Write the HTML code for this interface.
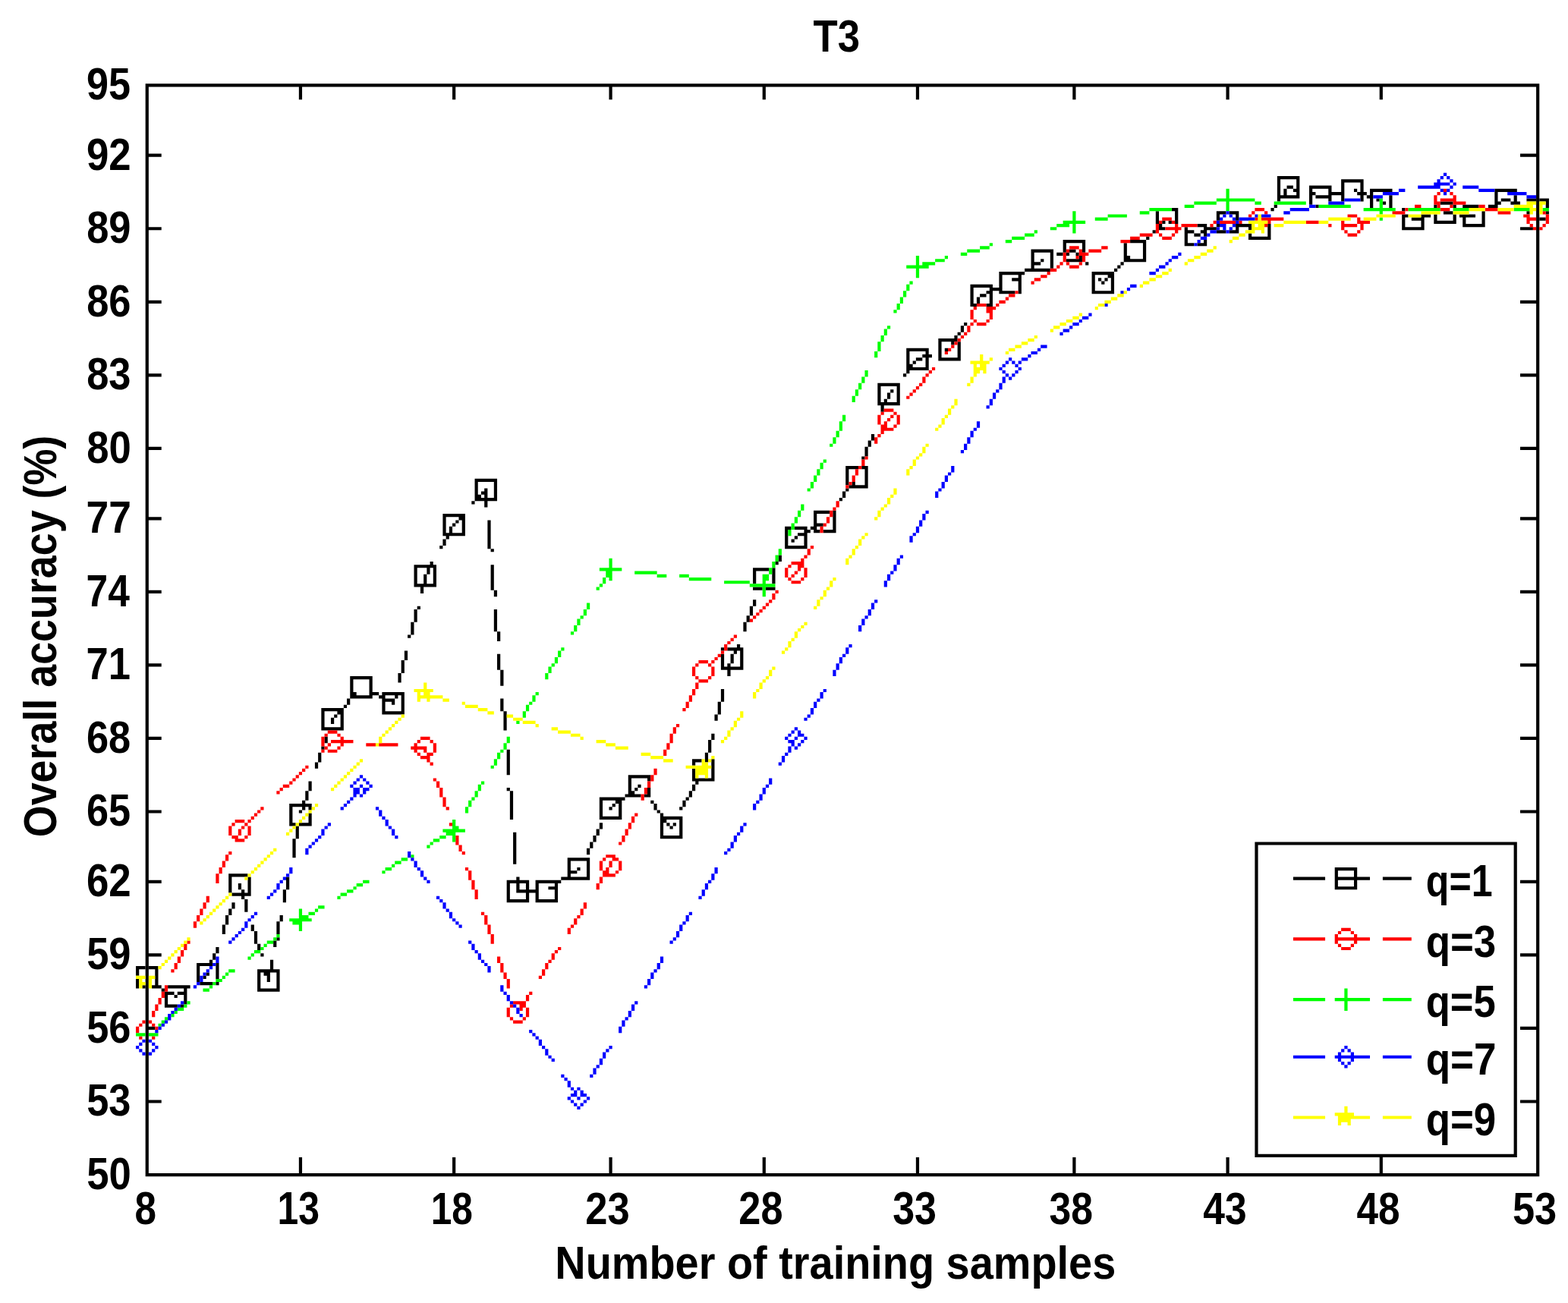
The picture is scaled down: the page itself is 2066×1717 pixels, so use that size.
<!DOCTYPE html>
<html><head><meta charset="utf-8"><title>T3</title>
<style>html,body{margin:0;padding:0;background:#fff;width:2066px;height:1717px;overflow:hidden}svg{display:block}</style>
</head><body>
<svg xmlns="http://www.w3.org/2000/svg" width="2066" height="1717" viewBox="-0.4955 -0.2644 490.4451 409.0043" preserveAspectRatio="none">
<rect x="-2" y="-2" width="500" height="420" fill="#fff"/>
<path fill="#000" d="M45 26h436v1h-436zM45 27h1v1h-1zM93 27h1v1h-1zM141 27h1v1h-1zM190 27h1v1h-1zM238 27h1v1h-1zM286 27h1v1h-1zM335 27h1v1h-1zM383 27h1v1h-1zM431 27h1v1h-1zM480 27h1v1h-1zM45 28h1v1h-1zM93 28h1v1h-1zM141 28h1v1h-1zM190 28h1v1h-1zM238 28h1v1h-1zM286 28h1v1h-1zM335 28h1v1h-1zM383 28h1v1h-1zM431 28h1v1h-1zM480 28h1v1h-1zM45 29h1v1h-1zM93 29h1v1h-1zM141 29h1v1h-1zM190 29h1v1h-1zM238 29h1v1h-1zM286 29h1v1h-1zM335 29h1v1h-1zM383 29h1v1h-1zM431 29h1v1h-1zM480 29h1v1h-1zM45 30h1v1h-1zM93 30h1v1h-1zM141 30h1v1h-1zM190 30h1v1h-1zM238 30h1v1h-1zM286 30h1v1h-1zM335 30h1v1h-1zM383 30h1v1h-1zM431 30h1v1h-1zM480 30h1v1h-1zM45 31h1v1h-1zM480 31h1v1h-1zM45 32h1v1h-1zM480 32h1v1h-1zM45 33h1v1h-1zM480 33h1v1h-1zM45 34h1v1h-1zM480 34h1v1h-1zM45 35h1v1h-1zM480 35h1v1h-1zM45 36h1v1h-1zM480 36h1v1h-1zM45 37h1v1h-1zM480 37h1v1h-1zM45 38h1v1h-1zM480 38h1v1h-1zM45 39h1v1h-1zM480 39h1v1h-1zM45 40h1v1h-1zM480 40h1v1h-1zM45 41h1v1h-1zM480 41h1v1h-1zM45 42h1v1h-1zM480 42h1v1h-1zM45 43h1v1h-1zM480 43h1v1h-1zM45 44h1v1h-1zM480 44h1v1h-1zM45 45h1v1h-1zM480 45h1v1h-1zM45 46h1v1h-1zM480 46h1v1h-1zM45 47h1v1h-1zM480 47h1v1h-1zM45 48h5v1h-5zM475 48h6v1h-6zM45 49h1v1h-1zM480 49h1v1h-1zM45 50h1v1h-1zM480 50h1v1h-1zM45 51h1v1h-1zM480 51h1v1h-1zM45 52h1v1h-1zM480 52h1v1h-1zM45 53h1v1h-1zM480 53h1v1h-1zM45 54h1v1h-1zM480 54h1v1h-1zM45 55h1v1h-1zM480 55h1v1h-1zM45 56h1v1h-1zM480 56h1v1h-1zM45 57h1v1h-1zM480 57h1v1h-1zM45 58h1v1h-1zM480 58h1v1h-1zM45 59h1v1h-1zM480 59h1v1h-1zM45 60h1v1h-1zM480 60h1v1h-1zM45 61h1v1h-1zM480 61h1v1h-1zM45 62h1v1h-1zM480 62h1v1h-1zM45 63h1v1h-1zM480 63h1v1h-1zM45 64h1v1h-1zM480 64h1v1h-1zM45 65h1v1h-1zM480 65h1v1h-1zM45 66h1v1h-1zM480 66h1v1h-1zM45 67h1v1h-1zM480 67h1v1h-1zM45 68h1v1h-1zM480 68h1v1h-1zM45 69h1v1h-1zM480 69h1v1h-1zM45 70h1v1h-1zM480 70h1v1h-1zM45 71h5v1h-5zM475 71h4v1h-4zM480 71h1v1h-1zM45 72h1v1h-1zM480 72h1v1h-1zM45 73h1v1h-1zM480 73h1v1h-1zM45 74h1v1h-1zM480 74h1v1h-1zM45 75h1v1h-1zM480 75h1v1h-1zM45 76h1v1h-1zM480 76h1v1h-1zM45 77h1v1h-1zM480 77h1v1h-1zM45 78h1v1h-1zM480 78h1v1h-1zM45 79h1v1h-1zM480 79h1v1h-1zM45 80h1v1h-1zM480 80h1v1h-1zM45 81h1v1h-1zM480 81h1v1h-1zM45 82h1v1h-1zM480 82h1v1h-1zM45 83h1v1h-1zM480 83h1v1h-1zM45 84h1v1h-1zM480 84h1v1h-1zM45 85h1v1h-1zM480 85h1v1h-1zM45 86h1v1h-1zM480 86h1v1h-1zM45 87h1v1h-1zM480 87h1v1h-1zM45 88h1v1h-1zM480 88h1v1h-1zM45 89h1v1h-1zM480 89h1v1h-1zM45 90h1v1h-1zM480 90h1v1h-1zM45 91h1v1h-1zM480 91h1v1h-1zM45 92h1v1h-1zM480 92h1v1h-1zM45 93h1v1h-1zM480 93h1v1h-1zM45 94h5v1h-5zM475 94h6v1h-6zM45 95h1v1h-1zM480 95h1v1h-1zM45 96h1v1h-1zM480 96h1v1h-1zM45 97h1v1h-1zM480 97h1v1h-1zM45 98h1v1h-1zM480 98h1v1h-1zM45 99h1v1h-1zM480 99h1v1h-1zM45 100h1v1h-1zM480 100h1v1h-1zM45 101h1v1h-1zM480 101h1v1h-1zM45 102h1v1h-1zM480 102h1v1h-1zM45 103h1v1h-1zM480 103h1v1h-1zM45 104h1v1h-1zM480 104h1v1h-1zM45 105h1v1h-1zM480 105h1v1h-1zM45 106h1v1h-1zM480 106h1v1h-1zM45 107h1v1h-1zM480 107h1v1h-1zM45 108h1v1h-1zM480 108h1v1h-1zM45 109h1v1h-1zM480 109h1v1h-1zM45 110h1v1h-1zM480 110h1v1h-1zM45 111h1v1h-1zM480 111h1v1h-1zM45 112h1v1h-1zM480 112h1v1h-1zM45 113h1v1h-1zM480 113h1v1h-1zM45 114h1v1h-1zM480 114h1v1h-1zM45 115h1v1h-1zM480 115h1v1h-1zM45 116h1v1h-1zM480 116h1v1h-1zM45 117h5v1h-5zM475 117h6v1h-6zM45 118h1v1h-1zM480 118h1v1h-1zM45 119h1v1h-1zM480 119h1v1h-1zM45 120h1v1h-1zM480 120h1v1h-1zM45 121h1v1h-1zM480 121h1v1h-1zM45 122h1v1h-1zM480 122h1v1h-1zM45 123h1v1h-1zM480 123h1v1h-1zM45 124h1v1h-1zM480 124h1v1h-1zM45 125h1v1h-1zM480 125h1v1h-1zM45 126h1v1h-1zM480 126h1v1h-1zM45 127h1v1h-1zM480 127h1v1h-1zM45 128h1v1h-1zM480 128h1v1h-1zM45 129h1v1h-1zM480 129h1v1h-1zM45 130h1v1h-1zM480 130h1v1h-1zM45 131h1v1h-1zM480 131h1v1h-1zM45 132h1v1h-1zM480 132h1v1h-1zM45 133h1v1h-1zM480 133h1v1h-1zM45 134h1v1h-1zM480 134h1v1h-1zM45 135h1v1h-1zM480 135h1v1h-1zM45 136h1v1h-1zM480 136h1v1h-1zM45 137h1v1h-1zM480 137h1v1h-1zM45 138h1v1h-1zM480 138h1v1h-1zM45 139h1v1h-1zM480 139h1v1h-1zM45 140h5v1h-5zM475 140h6v1h-6zM45 141h1v1h-1zM480 141h1v1h-1zM45 142h1v1h-1zM480 142h1v1h-1zM45 143h1v1h-1zM480 143h1v1h-1zM45 144h1v1h-1zM480 144h1v1h-1zM45 145h1v1h-1zM480 145h1v1h-1zM45 146h1v1h-1zM480 146h1v1h-1zM45 147h1v1h-1zM480 147h1v1h-1zM45 148h1v1h-1zM480 148h1v1h-1zM45 149h1v1h-1zM480 149h1v1h-1zM45 150h1v1h-1zM480 150h1v1h-1zM45 151h1v1h-1zM480 151h1v1h-1zM45 152h1v1h-1zM480 152h1v1h-1zM45 153h1v1h-1zM480 153h1v1h-1zM45 154h1v1h-1zM480 154h1v1h-1zM45 155h1v1h-1zM480 155h1v1h-1zM45 156h1v1h-1zM480 156h1v1h-1zM45 157h1v1h-1zM480 157h1v1h-1zM45 158h1v1h-1zM480 158h1v1h-1zM45 159h1v1h-1zM480 159h1v1h-1zM45 160h1v1h-1zM480 160h1v1h-1zM45 161h1v1h-1zM480 161h1v1h-1zM45 162h5v1h-5zM475 162h6v1h-6zM45 163h1v1h-1zM480 163h1v1h-1zM45 164h1v1h-1zM480 164h1v1h-1zM45 165h1v1h-1zM480 165h1v1h-1zM45 166h1v1h-1zM480 166h1v1h-1zM45 167h1v1h-1zM480 167h1v1h-1zM45 168h1v1h-1zM480 168h1v1h-1zM45 169h1v1h-1zM480 169h1v1h-1zM45 170h1v1h-1zM480 170h1v1h-1zM45 171h1v1h-1zM480 171h1v1h-1zM45 172h1v1h-1zM480 172h1v1h-1zM45 173h1v1h-1zM480 173h1v1h-1zM45 174h1v1h-1zM480 174h1v1h-1zM45 175h1v1h-1zM480 175h1v1h-1zM45 176h1v1h-1zM480 176h1v1h-1zM45 177h1v1h-1zM480 177h1v1h-1zM45 178h1v1h-1zM480 178h1v1h-1zM45 179h1v1h-1zM480 179h1v1h-1zM45 180h1v1h-1zM480 180h1v1h-1zM45 181h1v1h-1zM480 181h1v1h-1zM45 182h1v1h-1zM480 182h1v1h-1zM45 183h1v1h-1zM480 183h1v1h-1zM45 184h1v1h-1zM480 184h1v1h-1zM45 185h5v1h-5zM475 185h6v1h-6zM45 186h1v1h-1zM480 186h1v1h-1zM45 187h1v1h-1zM480 187h1v1h-1zM45 188h1v1h-1zM480 188h1v1h-1zM45 189h1v1h-1zM480 189h1v1h-1zM45 190h1v1h-1zM480 190h1v1h-1zM45 191h1v1h-1zM480 191h1v1h-1zM45 192h1v1h-1zM480 192h1v1h-1zM45 193h1v1h-1zM480 193h1v1h-1zM45 194h1v1h-1zM480 194h1v1h-1zM45 195h1v1h-1zM480 195h1v1h-1zM45 196h1v1h-1zM480 196h1v1h-1zM45 197h1v1h-1zM480 197h1v1h-1zM45 198h1v1h-1zM480 198h1v1h-1zM45 199h1v1h-1zM480 199h1v1h-1zM45 200h1v1h-1zM480 200h1v1h-1zM45 201h1v1h-1zM480 201h1v1h-1zM45 202h1v1h-1zM480 202h1v1h-1zM45 203h1v1h-1zM480 203h1v1h-1zM45 204h1v1h-1zM480 204h1v1h-1zM45 205h1v1h-1zM480 205h1v1h-1zM45 206h1v1h-1zM480 206h1v1h-1zM45 207h1v1h-1zM480 207h1v1h-1zM45 208h5v1h-5zM475 208h6v1h-6zM45 209h1v1h-1zM480 209h1v1h-1zM45 210h1v1h-1zM480 210h1v1h-1zM45 211h1v1h-1zM480 211h1v1h-1zM45 212h1v1h-1zM480 212h1v1h-1zM45 213h1v1h-1zM480 213h1v1h-1zM45 214h1v1h-1zM480 214h1v1h-1zM45 215h1v1h-1zM480 215h1v1h-1zM45 216h1v1h-1zM480 216h1v1h-1zM45 217h1v1h-1zM480 217h1v1h-1zM45 218h1v1h-1zM480 218h1v1h-1zM45 219h1v1h-1zM480 219h1v1h-1zM45 220h1v1h-1zM480 220h1v1h-1zM45 221h1v1h-1zM480 221h1v1h-1zM45 222h1v1h-1zM480 222h1v1h-1zM45 223h1v1h-1zM480 223h1v1h-1zM45 224h1v1h-1zM480 224h1v1h-1zM45 225h1v1h-1zM480 225h1v1h-1zM45 226h1v1h-1zM480 226h1v1h-1zM45 227h1v1h-1zM480 227h1v1h-1zM45 228h1v1h-1zM480 228h1v1h-1zM45 229h1v1h-1zM480 229h1v1h-1zM45 230h1v1h-1zM480 230h1v1h-1zM45 231h5v1h-5zM475 231h6v1h-6zM45 232h1v1h-1zM480 232h1v1h-1zM45 233h1v1h-1zM480 233h1v1h-1zM45 234h1v1h-1zM480 234h1v1h-1zM45 235h1v1h-1zM480 235h1v1h-1zM45 236h1v1h-1zM480 236h1v1h-1zM45 237h1v1h-1zM480 237h1v1h-1zM45 238h1v1h-1zM480 238h1v1h-1zM45 239h1v1h-1zM480 239h1v1h-1zM45 240h1v1h-1zM480 240h1v1h-1zM45 241h1v1h-1zM480 241h1v1h-1zM45 242h1v1h-1zM480 242h1v1h-1zM45 243h1v1h-1zM480 243h1v1h-1zM45 244h1v1h-1zM480 244h1v1h-1zM45 245h1v1h-1zM480 245h1v1h-1zM45 246h1v1h-1zM480 246h1v1h-1zM45 247h1v1h-1zM480 247h1v1h-1zM45 248h1v1h-1zM480 248h1v1h-1zM45 249h1v1h-1zM480 249h1v1h-1zM45 250h1v1h-1zM480 250h1v1h-1zM45 251h1v1h-1zM480 251h1v1h-1zM45 252h1v1h-1zM480 252h1v1h-1zM45 253h1v1h-1zM480 253h1v1h-1zM45 254h5v1h-5zM475 254h6v1h-6zM45 255h1v1h-1zM480 255h1v1h-1zM45 256h1v1h-1zM480 256h1v1h-1zM45 257h1v1h-1zM480 257h1v1h-1zM45 258h1v1h-1zM480 258h1v1h-1zM45 259h1v1h-1zM480 259h1v1h-1zM45 260h1v1h-1zM480 260h1v1h-1zM45 261h1v1h-1zM480 261h1v1h-1zM45 262h1v1h-1zM480 262h1v1h-1zM45 263h1v1h-1zM480 263h1v1h-1zM45 264h1v1h-1zM392 264h82v1h-82zM480 264h1v1h-1zM45 265h1v1h-1zM392 265h1v1h-1zM473 265h1v1h-1zM480 265h1v1h-1zM45 266h1v1h-1zM392 266h1v1h-1zM473 266h1v1h-1zM480 266h1v1h-1zM45 267h1v1h-1zM392 267h1v1h-1zM473 267h1v1h-1zM480 267h1v1h-1zM45 268h1v1h-1zM392 268h1v1h-1zM473 268h1v1h-1zM480 268h1v1h-1zM45 269h1v1h-1zM392 269h1v1h-1zM473 269h1v1h-1zM480 269h1v1h-1zM45 270h1v1h-1zM392 270h1v1h-1zM473 270h1v1h-1zM480 270h1v1h-1zM45 271h1v1h-1zM392 271h1v1h-1zM473 271h1v1h-1zM480 271h1v1h-1zM45 272h1v1h-1zM392 272h1v1h-1zM473 272h1v1h-1zM480 272h1v1h-1zM45 273h1v1h-1zM392 273h1v1h-1zM473 273h1v1h-1zM480 273h1v1h-1zM45 274h1v1h-1zM392 274h1v1h-1zM473 274h1v1h-1zM480 274h1v1h-1zM45 275h1v1h-1zM392 275h1v1h-1zM473 275h1v1h-1zM480 275h1v1h-1zM45 276h5v1h-5zM392 276h1v1h-1zM473 276h1v1h-1zM475 276h6v1h-6zM45 277h1v1h-1zM392 277h1v1h-1zM473 277h1v1h-1zM480 277h1v1h-1zM45 278h1v1h-1zM392 278h1v1h-1zM473 278h1v1h-1zM480 278h1v1h-1zM45 279h1v1h-1zM392 279h1v1h-1zM473 279h1v1h-1zM480 279h1v1h-1zM45 280h1v1h-1zM392 280h1v1h-1zM473 280h1v1h-1zM480 280h1v1h-1zM45 281h1v1h-1zM392 281h1v1h-1zM473 281h1v1h-1zM480 281h1v1h-1zM45 282h1v1h-1zM392 282h1v1h-1zM473 282h1v1h-1zM480 282h1v1h-1zM45 283h1v1h-1zM392 283h1v1h-1zM473 283h1v1h-1zM480 283h1v1h-1zM45 284h1v1h-1zM392 284h1v1h-1zM473 284h1v1h-1zM480 284h1v1h-1zM45 285h1v1h-1zM392 285h1v1h-1zM473 285h1v1h-1zM480 285h1v1h-1zM45 286h1v1h-1zM392 286h1v1h-1zM473 286h1v1h-1zM480 286h1v1h-1zM45 287h1v1h-1zM392 287h1v1h-1zM473 287h1v1h-1zM480 287h1v1h-1zM45 288h1v1h-1zM392 288h1v1h-1zM473 288h1v1h-1zM480 288h1v1h-1zM45 289h1v1h-1zM392 289h1v1h-1zM473 289h1v1h-1zM480 289h1v1h-1zM45 290h1v1h-1zM392 290h1v1h-1zM473 290h1v1h-1zM480 290h1v1h-1zM45 291h1v1h-1zM392 291h1v1h-1zM473 291h1v1h-1zM480 291h1v1h-1zM45 292h1v1h-1zM392 292h1v1h-1zM473 292h1v1h-1zM480 292h1v1h-1zM45 293h1v1h-1zM392 293h1v1h-1zM473 293h1v1h-1zM480 293h1v1h-1zM45 294h1v1h-1zM392 294h1v1h-1zM473 294h1v1h-1zM480 294h1v1h-1zM45 295h1v1h-1zM392 295h1v1h-1zM473 295h1v1h-1zM480 295h1v1h-1zM45 296h1v1h-1zM392 296h1v1h-1zM473 296h1v1h-1zM480 296h1v1h-1zM45 297h1v1h-1zM392 297h1v1h-1zM473 297h1v1h-1zM480 297h1v1h-1zM45 298h1v1h-1zM392 298h1v1h-1zM473 298h1v1h-1zM480 298h1v1h-1zM45 299h5v1h-5zM392 299h1v1h-1zM473 299h1v1h-1zM475 299h6v1h-6zM45 300h1v1h-1zM392 300h1v1h-1zM473 300h1v1h-1zM480 300h1v1h-1zM45 301h1v1h-1zM392 301h1v1h-1zM473 301h1v1h-1zM480 301h1v1h-1zM45 302h1v1h-1zM392 302h1v1h-1zM473 302h1v1h-1zM480 302h1v1h-1zM45 303h1v1h-1zM392 303h1v1h-1zM473 303h1v1h-1zM480 303h1v1h-1zM45 304h1v1h-1zM392 304h1v1h-1zM473 304h1v1h-1zM480 304h1v1h-1zM45 305h1v1h-1zM392 305h1v1h-1zM473 305h1v1h-1zM480 305h1v1h-1zM45 306h1v1h-1zM392 306h1v1h-1zM473 306h1v1h-1zM480 306h1v1h-1zM45 307h1v1h-1zM392 307h1v1h-1zM473 307h1v1h-1zM480 307h1v1h-1zM45 308h1v1h-1zM392 308h1v1h-1zM473 308h1v1h-1zM480 308h1v1h-1zM45 309h1v1h-1zM392 309h1v1h-1zM473 309h1v1h-1zM480 309h1v1h-1zM45 310h1v1h-1zM392 310h1v1h-1zM473 310h1v1h-1zM480 310h1v1h-1zM45 311h1v1h-1zM392 311h1v1h-1zM473 311h1v1h-1zM480 311h1v1h-1zM45 312h1v1h-1zM392 312h1v1h-1zM473 312h1v1h-1zM480 312h1v1h-1zM45 313h1v1h-1zM392 313h1v1h-1zM473 313h1v1h-1zM480 313h1v1h-1zM45 314h1v1h-1zM392 314h1v1h-1zM473 314h1v1h-1zM480 314h1v1h-1zM45 315h1v1h-1zM392 315h1v1h-1zM473 315h1v1h-1zM480 315h1v1h-1zM45 316h1v1h-1zM392 316h1v1h-1zM473 316h1v1h-1zM480 316h1v1h-1zM45 317h1v1h-1zM392 317h1v1h-1zM473 317h1v1h-1zM480 317h1v1h-1zM45 318h1v1h-1zM392 318h1v1h-1zM473 318h1v1h-1zM480 318h1v1h-1zM45 319h1v1h-1zM392 319h1v1h-1zM473 319h1v1h-1zM480 319h1v1h-1zM45 320h1v1h-1zM392 320h1v1h-1zM473 320h1v1h-1zM480 320h1v1h-1zM45 321h1v1h-1zM392 321h1v1h-1zM473 321h1v1h-1zM480 321h1v1h-1zM45 322h3v1h-3zM392 322h1v1h-1zM473 322h1v1h-1zM475 322h6v1h-6zM45 323h1v1h-1zM392 323h1v1h-1zM473 323h1v1h-1zM480 323h1v1h-1zM45 324h1v1h-1zM392 324h1v1h-1zM473 324h1v1h-1zM480 324h1v1h-1zM45 325h1v1h-1zM392 325h1v1h-1zM473 325h1v1h-1zM480 325h1v1h-1zM45 326h1v1h-1zM392 326h1v1h-1zM473 326h1v1h-1zM480 326h1v1h-1zM45 327h1v1h-1zM392 327h1v1h-1zM473 327h1v1h-1zM480 327h1v1h-1zM45 328h1v1h-1zM392 328h1v1h-1zM473 328h1v1h-1zM480 328h1v1h-1zM45 329h1v1h-1zM392 329h1v1h-1zM473 329h1v1h-1zM480 329h1v1h-1zM45 330h1v1h-1zM392 330h1v1h-1zM473 330h1v1h-1zM480 330h1v1h-1zM45 331h1v1h-1zM392 331h1v1h-1zM473 331h1v1h-1zM480 331h1v1h-1zM45 332h1v1h-1zM392 332h1v1h-1zM473 332h1v1h-1zM480 332h1v1h-1zM45 333h1v1h-1zM392 333h1v1h-1zM473 333h1v1h-1zM480 333h1v1h-1zM45 334h1v1h-1zM392 334h1v1h-1zM473 334h1v1h-1zM480 334h1v1h-1zM45 335h1v1h-1zM392 335h1v1h-1zM473 335h1v1h-1zM480 335h1v1h-1zM45 336h1v1h-1zM392 336h1v1h-1zM473 336h1v1h-1zM480 336h1v1h-1zM45 337h1v1h-1zM392 337h1v1h-1zM473 337h1v1h-1zM480 337h1v1h-1zM45 338h1v1h-1zM392 338h1v1h-1zM473 338h1v1h-1zM480 338h1v1h-1zM45 339h1v1h-1zM392 339h1v1h-1zM473 339h1v1h-1zM480 339h1v1h-1zM45 340h1v1h-1zM392 340h1v1h-1zM473 340h1v1h-1zM480 340h1v1h-1zM45 341h1v1h-1zM392 341h1v1h-1zM473 341h1v1h-1zM480 341h1v1h-1zM45 342h1v1h-1zM392 342h1v1h-1zM473 342h1v1h-1zM480 342h1v1h-1zM45 343h1v1h-1zM392 343h1v1h-1zM473 343h1v1h-1zM480 343h1v1h-1zM45 344h1v1h-1zM392 344h1v1h-1zM473 344h1v1h-1zM480 344h1v1h-1zM45 345h5v1h-5zM392 345h1v1h-1zM473 345h1v1h-1zM475 345h6v1h-6zM45 346h1v1h-1zM392 346h1v1h-1zM473 346h1v1h-1zM480 346h1v1h-1zM45 347h1v1h-1zM392 347h1v1h-1zM473 347h1v1h-1zM480 347h1v1h-1zM45 348h1v1h-1zM392 348h1v1h-1zM473 348h1v1h-1zM480 348h1v1h-1zM45 349h1v1h-1zM392 349h1v1h-1zM473 349h1v1h-1zM480 349h1v1h-1zM45 350h1v1h-1zM392 350h1v1h-1zM473 350h1v1h-1zM480 350h1v1h-1zM45 351h1v1h-1zM392 351h1v1h-1zM473 351h1v1h-1zM480 351h1v1h-1zM45 352h1v1h-1zM392 352h1v1h-1zM473 352h1v1h-1zM480 352h1v1h-1zM45 353h1v1h-1zM392 353h1v1h-1zM473 353h1v1h-1zM480 353h1v1h-1zM45 354h1v1h-1zM392 354h1v1h-1zM473 354h1v1h-1zM480 354h1v1h-1zM45 355h1v1h-1zM392 355h1v1h-1zM473 355h1v1h-1zM480 355h1v1h-1zM45 356h1v1h-1zM392 356h1v1h-1zM473 356h1v1h-1zM480 356h1v1h-1zM45 357h1v1h-1zM392 357h1v1h-1zM473 357h1v1h-1zM480 357h1v1h-1zM45 358h1v1h-1zM392 358h1v1h-1zM473 358h1v1h-1zM480 358h1v1h-1zM45 359h1v1h-1zM392 359h1v1h-1zM473 359h1v1h-1zM480 359h1v1h-1zM45 360h1v1h-1zM392 360h1v1h-1zM473 360h1v1h-1zM480 360h1v1h-1zM45 361h1v1h-1zM392 361h1v1h-1zM473 361h1v1h-1zM480 361h1v1h-1zM45 362h1v1h-1zM392 362h82v1h-82zM480 362h1v1h-1zM45 363h1v1h-1zM93 363h1v1h-1zM141 363h1v1h-1zM190 363h1v1h-1zM238 363h1v1h-1zM286 363h1v1h-1zM335 363h1v1h-1zM383 363h1v1h-1zM431 363h1v1h-1zM480 363h1v1h-1zM45 364h1v1h-1zM93 364h1v1h-1zM141 364h1v1h-1zM190 364h1v1h-1zM238 364h1v1h-1zM286 364h1v1h-1zM335 364h1v1h-1zM383 364h1v1h-1zM431 364h1v1h-1zM480 364h1v1h-1zM45 365h1v1h-1zM93 365h1v1h-1zM141 365h1v1h-1zM190 365h1v1h-1zM238 365h1v1h-1zM286 365h1v1h-1zM335 365h1v1h-1zM383 365h1v1h-1zM431 365h1v1h-1zM480 365h1v1h-1zM45 366h1v1h-1zM93 366h1v1h-1zM141 366h1v1h-1zM190 366h1v1h-1zM238 366h1v1h-1zM286 366h1v1h-1zM335 366h1v1h-1zM383 366h1v1h-1zM431 366h1v1h-1zM480 366h1v1h-1zM45 367h1v1h-1zM93 367h1v1h-1zM141 367h1v1h-1zM190 367h1v1h-1zM238 367h1v1h-1zM286 367h1v1h-1zM335 367h1v1h-1zM383 367h1v1h-1zM431 367h1v1h-1zM480 367h1v1h-1zM45 368h436v1h-436z"/>
<path fill="#000000" d="M399 55h7v1h-7zM399 56h1v1h-1zM405 56h1v1h-1zM419 56h7v1h-7zM399 57h1v1h-1zM405 57h1v1h-1zM419 57h1v1h-1zM425 57h1v1h-1zM399 58h1v1h-1zM402 58h2v1h-2zM405 58h1v1h-1zM409 58h7v1h-7zM419 58h1v1h-1zM425 58h1v1h-1zM399 59h1v1h-1zM401 59h1v1h-1zM404 59h2v1h-2zM409 59h1v1h-1zM415 59h1v1h-1zM419 59h1v1h-1zM423 59h1v1h-1zM425 59h1v1h-1zM428 59h7v1h-7zM467 59h7v1h-7zM399 60h1v1h-1zM401 60h1v1h-1zM405 60h1v1h-1zM409 60h2v1h-2zM415 60h5v1h-5zM424 60h3v1h-3zM428 60h1v1h-1zM467 60h1v1h-1zM399 61h7v1h-7zM409 61h1v1h-1zM411 61h5v1h-5zM419 61h1v1h-1zM425 61h1v1h-1zM427 61h2v1h-2zM434 61h1v1h-1zM467 61h1v1h-1zM473 61h1v1h-1zM399 62h1v1h-1zM409 62h1v1h-1zM415 62h1v1h-1zM419 62h1v1h-1zM425 62h1v1h-1zM428 62h1v1h-1zM430 62h1v1h-1zM434 62h1v1h-1zM467 62h1v1h-1zM469 62h3v1h-3zM473 62h1v1h-1zM477 62h3v1h-3zM481 62h3v1h-3zM409 63h1v1h-1zM428 63h1v1h-1zM432 63h1v1h-1zM434 63h1v1h-1zM450 63h4v1h-4zM467 63h2v1h-2zM472 63h3v1h-3zM483 63h1v1h-1zM398 64h1v1h-1zM411 64h1v1h-1zM428 64h1v1h-1zM434 64h1v1h-1zM448 64h1v1h-1zM454 64h1v1h-1zM457 64h5v1h-5zM465 64h3v1h-3zM483 64h1v1h-1zM366 65h2v1h-2zM397 65h1v1h-1zM438 65h1v1h-1zM361 66h1v1h-1zM367 66h1v1h-1zM380 66h3v1h-3zM384 66h3v1h-3zM451 66h3v1h-3zM463 66h1v1h-1zM477 66h1v1h-1zM483 66h1v1h-1zM361 67h1v1h-1zM367 67h1v1h-1zM380 67h1v1h-1zM386 67h1v1h-1zM438 67h2v1h-2zM444 67h3v1h-3zM448 67h1v1h-1zM454 67h1v1h-1zM456 67h5v1h-5zM463 67h1v1h-1zM361 68h1v1h-1zM367 68h1v1h-1zM380 68h1v1h-1zM386 68h1v1h-1zM438 68h1v1h-1zM441 68h4v1h-4zM448 68h1v1h-1zM454 68h1v1h-1zM457 68h1v1h-1zM463 68h1v1h-1zM481 68h2v1h-2zM361 69h1v1h-1zM363 69h1v1h-1zM365 69h1v1h-1zM367 69h1v1h-1zM438 69h1v1h-1zM444 69h1v1h-1zM448 69h7v1h-7zM457 69h1v1h-1zM463 69h1v1h-1zM362 70h1v1h-1zM374 70h3v1h-3zM380 70h1v1h-1zM386 70h5v1h-5zM396 70h1v1h-1zM438 70h1v1h-1zM444 70h1v1h-1zM457 70h7v1h-7zM362 71h2v1h-2zM370 71h1v1h-1zM376 71h4v1h-4zM386 71h1v1h-1zM390 71h1v1h-1zM396 71h1v1h-1zM438 71h7v1h-7zM360 72h1v1h-1zM370 72h3v1h-3zM375 72h2v1h-2zM380 72h3v1h-3zM384 72h3v1h-3zM396 72h1v1h-1zM370 73h1v1h-1zM373 73h2v1h-2zM376 73h1v1h-1zM390 73h1v1h-1zM396 73h1v1h-1zM358 74h1v1h-1zM370 74h1v1h-1zM390 74h7v1h-7zM332 75h7v1h-7zM353 75h5v1h-5zM370 75h1v1h-1zM376 75h1v1h-1zM332 76h1v1h-1zM338 76h1v1h-1zM351 76h1v1h-1zM357 76h1v1h-1zM370 76h3v1h-3zM374 76h3v1h-3zM332 77h1v1h-1zM338 77h1v1h-1zM351 77h1v1h-1zM357 77h1v1h-1zM322 78h7v1h-7zM332 78h1v1h-1zM334 78h2v1h-2zM338 78h1v1h-1zM351 78h1v1h-1zM357 78h1v1h-1zM322 79h1v1h-1zM328 79h1v1h-1zM330 79h2v1h-2zM333 79h1v1h-1zM336 79h1v1h-1zM351 79h1v1h-1zM357 79h1v1h-1zM322 80h1v1h-1zM328 80h1v1h-1zM337 80h1v1h-1zM351 80h2v1h-2zM357 80h1v1h-1zM322 81h1v1h-1zM325 81h1v1h-1zM328 81h1v1h-1zM333 81h5v1h-5zM351 81h7v1h-7zM322 82h3v1h-3zM328 82h1v1h-1zM339 82h1v1h-1zM350 82h1v1h-1zM322 83h1v1h-1zM328 83h1v1h-1zM349 83h1v1h-1zM320 84h8v1h-8zM348 84h1v1h-1zM312 85h8v1h-8zM341 85h7v1h-7zM312 86h1v1h-1zM318 86h1v1h-1zM341 86h1v1h-1zM346 86h2v1h-2zM312 87h1v1h-1zM316 87h3v1h-3zM341 87h1v1h-1zM343 87h1v1h-1zM345 87h1v1h-1zM347 87h1v1h-1zM312 88h1v1h-1zM318 88h1v1h-1zM341 88h1v1h-1zM344 88h1v1h-1zM347 88h1v1h-1zM303 89h7v1h-7zM312 89h1v1h-1zM318 89h1v1h-1zM341 89h1v1h-1zM347 89h1v1h-1zM303 90h1v1h-1zM309 90h4v1h-4zM318 90h1v1h-1zM341 90h1v1h-1zM347 90h1v1h-1zM303 91h1v1h-1zM308 91h2v1h-2zM312 91h5v1h-5zM318 91h1v1h-1zM341 91h7v1h-7zM303 92h1v1h-1zM306 92h2v1h-2zM309 92h1v1h-1zM303 93h1v1h-1zM305 93h1v1h-1zM309 93h1v1h-1zM303 94h1v1h-1zM305 94h1v1h-1zM309 94h1v1h-1zM303 95h2v1h-2zM308 95h2v1h-2zM301 101h1v1h-1zM300 102h1v1h-1zM300 103h1v1h-1zM299 104h1v1h-1zM298 105h1v1h-1zM293 106h6v1h-6zM293 107h1v1h-1zM297 107h1v1h-1zM299 107h1v1h-1zM293 108h1v1h-1zM299 108h1v1h-1zM283 109h7v1h-7zM293 109h1v1h-1zM295 109h1v1h-1zM299 109h1v1h-1zM283 110h1v1h-1zM289 110h1v1h-1zM293 110h1v1h-1zM299 110h1v1h-1zM283 111h1v1h-1zM288 111h3v1h-3zM293 111h1v1h-1zM299 111h1v1h-1zM283 112h1v1h-1zM286 112h2v1h-2zM289 112h1v1h-1zM293 112h7v1h-7zM283 113h1v1h-1zM285 113h1v1h-1zM289 113h1v1h-1zM283 114h2v1h-2zM289 114h1v1h-1zM283 115h7v1h-7zM283 116h1v1h-1zM282 117h1v1h-1zM274 120h7v1h-7zM274 121h1v1h-1zM280 121h1v1h-1zM274 122h1v1h-1zM278 122h1v1h-1zM280 122h1v1h-1zM274 123h1v1h-1zM277 123h1v1h-1zM280 123h1v1h-1zM274 124h1v1h-1zM277 124h1v1h-1zM280 124h1v1h-1zM274 125h1v1h-1zM276 125h1v1h-1zM280 125h1v1h-1zM274 126h7v1h-7zM275 127h1v1h-1zM275 128h1v1h-1zM272 136h1v1h-1zM272 137h1v1h-1zM271 138h1v1h-1zM271 139h1v1h-1zM270 140h1v1h-1zM270 141h1v1h-1zM270 142h1v1h-1zM269 143h1v1h-1zM264 146h4v1h-4zM269 146h2v1h-2zM264 147h1v1h-1zM270 147h1v1h-1zM264 148h1v1h-1zM270 148h1v1h-1zM264 149h1v1h-1zM270 149h1v1h-1zM148 150h7v1h-7zM264 150h1v1h-1zM270 150h1v1h-1zM148 151h1v1h-1zM154 151h1v1h-1zM264 151h1v1h-1zM266 151h1v1h-1zM270 151h1v1h-1zM148 152h1v1h-1zM154 152h1v1h-1zM265 152h6v1h-6zM148 153h1v1h-1zM151 153h1v1h-1zM154 153h1v1h-1zM264 153h1v1h-1zM148 154h1v1h-1zM150 154h2v1h-2zM154 154h1v1h-1zM263 154h1v1h-1zM148 155h2v1h-2zM151 155h1v1h-1zM154 155h1v1h-1zM263 155h1v1h-1zM148 156h7v1h-7zM262 156h1v1h-1zM147 157h1v1h-1zM151 157h1v1h-1zM151 158h1v1h-1zM254 160h5v1h-5zM260 160h1v1h-1zM138 161h7v1h-7zM254 161h1v1h-1zM260 161h1v1h-1zM138 162h1v1h-1zM143 162h2v1h-2zM254 162h1v1h-1zM260 162h1v1h-1zM138 163h1v1h-1zM142 163h1v1h-1zM144 163h1v1h-1zM152 163h1v1h-1zM254 163h1v1h-1zM260 163h1v1h-1zM138 164h1v1h-1zM141 164h1v1h-1zM144 164h1v1h-1zM152 164h1v1h-1zM254 164h3v1h-3zM260 164h1v1h-1zM138 165h1v1h-1zM140 165h1v1h-1zM144 165h1v1h-1zM152 165h1v1h-1zM245 165h2v1h-2zM248 165h4v1h-4zM253 165h2v1h-2zM260 165h1v1h-1zM138 166h1v1h-1zM140 166h1v1h-1zM144 166h1v1h-1zM152 166h1v1h-1zM245 166h1v1h-1zM251 166h2v1h-2zM254 166h2v1h-2zM257 166h4v1h-4zM138 167h7v1h-7zM152 167h1v1h-1zM245 167h1v1h-1zM249 167h3v1h-3zM139 168h1v1h-1zM152 168h1v1h-1zM245 168h1v1h-1zM248 168h1v1h-1zM251 168h1v1h-1zM138 169h1v1h-1zM152 169h1v1h-1zM245 169h1v1h-1zM247 169h1v1h-1zM251 169h1v1h-1zM138 170h1v1h-1zM152 170h1v1h-1zM245 170h1v1h-1zM251 170h1v1h-1zM137 171h1v1h-1zM152 171h1v1h-1zM245 171h7v1h-7zM153 172h1v1h-1zM243 174h1v1h-1zM243 175h1v1h-1zM134 176h1v1h-1zM242 176h1v1h-1zM129 177h7v1h-7zM153 177h1v1h-1zM129 178h1v1h-1zM133 178h1v1h-1zM135 178h1v1h-1zM153 178h1v1h-1zM235 178h5v1h-5zM241 178h1v1h-1zM129 179h1v1h-1zM133 179h1v1h-1zM135 179h1v1h-1zM153 179h1v1h-1zM235 179h1v1h-1zM241 179h1v1h-1zM129 180h1v1h-1zM132 180h1v1h-1zM135 180h1v1h-1zM153 180h1v1h-1zM235 180h1v1h-1zM241 180h1v1h-1zM129 181h1v1h-1zM132 181h1v1h-1zM135 181h1v1h-1zM153 181h1v1h-1zM235 181h1v1h-1zM241 181h1v1h-1zM129 182h1v1h-1zM132 182h1v1h-1zM135 182h1v1h-1zM153 182h1v1h-1zM235 182h1v1h-1zM241 182h1v1h-1zM129 183h7v1h-7zM153 183h1v1h-1zM131 184h1v1h-1zM153 184h1v1h-1zM235 184h3v1h-3zM239 184h3v1h-3zM131 185h1v1h-1zM154 185h1v1h-1zM154 186h1v1h-1zM235 188h1v1h-1zM235 189h1v1h-1zM130 190h1v1h-1zM234 190h1v1h-1zM129 191h1v1h-1zM154 191h1v1h-1zM234 191h1v1h-1zM129 192h1v1h-1zM154 192h1v1h-1zM234 192h1v1h-1zM129 193h1v1h-1zM154 193h1v1h-1zM233 193h1v1h-1zM129 194h1v1h-1zM154 194h1v1h-1zM233 194h1v1h-1zM128 195h1v1h-1zM154 195h1v1h-1zM232 195h1v1h-1zM128 196h1v1h-1zM154 196h1v1h-1zM232 196h1v1h-1zM128 197h1v1h-1zM154 197h1v1h-1zM232 197h1v1h-1zM128 198h1v1h-1zM155 198h1v1h-1zM127 199h1v1h-1zM155 199h1v1h-1zM155 200h1v1h-1zM230 202h1v1h-1zM225 203h1v1h-1zM227 203h5v1h-5zM126 204h1v1h-1zM229 204h1v1h-1zM231 204h1v1h-1zM126 205h1v1h-1zM155 205h1v1h-1zM225 205h1v1h-1zM228 205h1v1h-1zM231 205h1v1h-1zM126 206h1v1h-1zM155 206h1v1h-1zM225 206h1v1h-1zM228 206h1v1h-1zM231 206h1v1h-1zM125 207h1v1h-1zM155 207h1v1h-1zM225 207h1v1h-1zM228 207h1v1h-1zM231 207h1v1h-1zM125 208h1v1h-1zM155 208h1v1h-1zM225 208h1v1h-1zM227 208h1v1h-1zM231 208h1v1h-1zM125 209h1v1h-1zM155 209h1v1h-1zM225 209h7v1h-7zM125 210h1v1h-1zM156 210h1v1h-1zM227 210h1v1h-1zM124 211h1v1h-1zM156 211h1v1h-1zM227 211h1v1h-1zM109 212h7v1h-7zM124 212h1v1h-1zM156 212h1v1h-1zM109 213h1v1h-1zM115 213h1v1h-1zM124 213h1v1h-1zM156 213h1v1h-1zM109 214h1v1h-1zM115 214h1v1h-1zM156 214h1v1h-1zM109 215h1v1h-1zM115 215h1v1h-1zM109 216h1v1h-1zM115 216h1v1h-1zM225 216h1v1h-1zM109 217h2v1h-2zM115 217h3v1h-3zM119 217h7v1h-7zM225 217h1v1h-1zM109 218h7v1h-7zM118 218h2v1h-2zM123 218h1v1h-1zM125 218h1v1h-1zM225 218h1v1h-1zM108 219h1v1h-1zM119 219h4v1h-4zM125 219h1v1h-1zM156 219h1v1h-1zM225 219h1v1h-1zM108 220h1v1h-1zM119 220h1v1h-1zM122 220h1v1h-1zM125 220h1v1h-1zM156 220h1v1h-1zM224 220h1v1h-1zM107 221h1v1h-1zM119 221h1v1h-1zM125 221h1v1h-1zM156 221h1v1h-1zM224 221h1v1h-1zM100 222h7v1h-7zM119 222h1v1h-1zM125 222h1v1h-1zM156 222h1v1h-1zM224 222h1v1h-1zM100 223h1v1h-1zM105 223h2v1h-2zM119 223h7v1h-7zM157 223h1v1h-1zM224 223h1v1h-1zM100 224h1v1h-1zM104 224h1v1h-1zM106 224h1v1h-1zM157 224h1v1h-1zM223 224h1v1h-1zM100 225h1v1h-1zM103 225h1v1h-1zM106 225h1v1h-1zM157 225h1v1h-1zM223 225h1v1h-1zM100 226h1v1h-1zM103 226h1v1h-1zM106 226h1v1h-1zM157 226h1v1h-1zM100 227h1v1h-1zM106 227h1v1h-1zM157 227h1v1h-1zM100 228h7v1h-7zM157 228h1v1h-1zM222 230h1v1h-1zM101 231h1v1h-1zM222 231h1v1h-1zM101 232h1v1h-1zM221 232h1v1h-1zM221 233h1v1h-1zM100 234h1v1h-1zM221 234h1v1h-1zM158 235h1v1h-1zM221 235h1v1h-1zM99 236h1v1h-1zM158 236h1v1h-1zM220 236h1v1h-1zM99 237h1v1h-1zM158 237h1v1h-1zM220 237h1v1h-1zM99 238h1v1h-1zM158 238h1v1h-1zM216 238h3v1h-3zM220 238h1v1h-1zM222 238h1v1h-1zM98 239h1v1h-1zM158 239h1v1h-1zM216 239h1v1h-1zM222 239h1v1h-1zM98 240h1v1h-1zM158 240h1v1h-1zM222 240h1v1h-1zM158 241h1v1h-1zM216 241h1v1h-1zM222 241h1v1h-1zM158 242h1v1h-1zM216 242h1v1h-1zM222 242h1v1h-1zM196 243h7v1h-7zM216 243h1v1h-1zM222 243h1v1h-1zM196 244h1v1h-1zM202 244h1v1h-1zM216 244h7v1h-7zM96 245h1v1h-1zM196 245h1v1h-1zM217 245h1v1h-1zM96 246h1v1h-1zM196 246h1v1h-1zM199 246h1v1h-1zM216 246h1v1h-1zM96 247h1v1h-1zM158 247h1v1h-1zM196 247h1v1h-1zM198 247h1v1h-1zM202 247h1v1h-1zM216 247h1v1h-1zM95 248h1v1h-1zM159 248h1v1h-1zM196 248h2v1h-2zM202 248h1v1h-1zM215 248h1v1h-1zM95 249h1v1h-1zM159 249h1v1h-1zM195 249h5v1h-5zM201 249h2v1h-2zM215 249h1v1h-1zM95 250h1v1h-1zM159 250h1v1h-1zM187 250h8v1h-8zM214 250h1v1h-1zM94 251h1v1h-1zM159 251h1v1h-1zM187 251h1v1h-1zM192 251h2v1h-2zM203 251h1v1h-1zM213 251h1v1h-1zM90 252h7v1h-7zM159 252h1v1h-1zM187 252h1v1h-1zM191 252h1v1h-1zM193 252h1v1h-1zM204 252h1v1h-1zM213 252h1v1h-1zM90 253h1v1h-1zM94 253h1v1h-1zM96 253h1v1h-1zM159 253h1v1h-1zM187 253h1v1h-1zM190 253h1v1h-1zM193 253h1v1h-1zM204 253h1v1h-1zM212 253h1v1h-1zM90 254h1v1h-1zM93 254h1v1h-1zM159 254h1v1h-1zM187 254h1v1h-1zM193 254h1v1h-1zM205 254h1v1h-1zM90 255h1v1h-1zM96 255h1v1h-1zM159 255h1v1h-1zM187 255h1v1h-1zM193 255h1v1h-1zM206 255h1v1h-1zM90 256h1v1h-1zM96 256h1v1h-1zM159 256h1v1h-1zM187 256h7v1h-7zM206 256h7v1h-7zM90 257h1v1h-1zM96 257h1v1h-1zM206 257h2v1h-2zM212 257h1v1h-1zM90 258h2v1h-2zM93 258h4v1h-4zM187 258h1v1h-1zM206 258h1v1h-1zM208 258h1v1h-1zM210 258h1v1h-1zM212 258h1v1h-1zM92 259h1v1h-1zM187 259h1v1h-1zM206 259h1v1h-1zM209 259h1v1h-1zM212 259h1v1h-1zM92 260h1v1h-1zM186 260h1v1h-1zM206 260h1v1h-1zM212 260h1v1h-1zM92 261h1v1h-1zM160 261h1v1h-1zM186 261h1v1h-1zM206 261h1v1h-1zM212 261h1v1h-1zM92 262h1v1h-1zM160 262h1v1h-1zM185 262h1v1h-1zM206 262h7v1h-7zM91 263h1v1h-1zM160 263h1v1h-1zM185 263h1v1h-1zM91 264h1v1h-1zM160 264h1v1h-1zM184 264h1v1h-1zM91 265h1v1h-1zM160 265h1v1h-1zM184 265h1v1h-1zM91 266h1v1h-1zM160 266h1v1h-1zM183 266h1v1h-1zM91 267h1v1h-1zM160 267h1v1h-1zM183 267h1v1h-1zM91 268h1v1h-1zM160 268h1v1h-1zM160 269h1v1h-1zM177 269h7v1h-7zM160 270h1v1h-1zM177 270h1v1h-1zM183 270h1v1h-1zM177 271h1v1h-1zM183 271h1v1h-1zM177 272h1v1h-1zM180 272h1v1h-1zM183 272h1v1h-1zM417 272h7v1h-7zM177 273h3v1h-3zM183 273h1v1h-1zM417 273h1v1h-1zM423 273h1v1h-1zM71 274h6v1h-6zM177 274h1v1h-1zM183 274h1v1h-1zM417 274h1v1h-1zM423 274h1v1h-1zM71 275h1v1h-1zM77 275h1v1h-1zM89 275h1v1h-1zM161 275h1v1h-1zM175 275h9v1h-9zM404 275h10v1h-10zM417 275h11v1h-11zM432 275h9v1h-9zM71 276h1v1h-1zM77 276h1v1h-1zM89 276h1v1h-1zM158 276h7v1h-7zM167 276h8v1h-8zM417 276h1v1h-1zM423 276h1v1h-1zM71 277h1v1h-1zM74 277h1v1h-1zM77 277h1v1h-1zM89 277h1v1h-1zM158 277h1v1h-1zM161 277h1v1h-1zM164 277h1v1h-1zM167 277h1v1h-1zM173 277h1v1h-1zM417 277h1v1h-1zM423 277h1v1h-1zM71 278h1v1h-1zM74 278h1v1h-1zM77 278h1v1h-1zM89 278h1v1h-1zM158 278h1v1h-1zM161 278h1v1h-1zM164 278h1v1h-1zM167 278h1v1h-1zM171 278h3v1h-3zM417 278h7v1h-7zM71 279h1v1h-1zM75 279h1v1h-1zM77 279h1v1h-1zM88 279h1v1h-1zM158 279h1v1h-1zM161 279h7v1h-7zM173 279h1v1h-1zM72 280h6v1h-6zM88 280h1v1h-1zM158 280h1v1h-1zM164 280h1v1h-1zM167 280h1v1h-1zM173 280h1v1h-1zM75 281h1v1h-1zM88 281h1v1h-1zM158 281h1v1h-1zM164 281h1v1h-1zM167 281h1v1h-1zM173 281h1v1h-1zM76 282h1v1h-1zM88 282h1v1h-1zM158 282h7v1h-7zM167 282h7v1h-7zM72 283h1v1h-1zM76 283h1v1h-1zM72 284h1v1h-1zM76 284h1v1h-1zM71 285h1v1h-1zM76 285h1v1h-1zM71 286h1v1h-1zM70 287h1v1h-1zM87 287h1v1h-1zM70 288h1v1h-1zM87 288h1v1h-1zM70 289h1v1h-1zM86 289h1v1h-1zM69 290h1v1h-1zM78 290h1v1h-1zM86 290h1v1h-1zM69 291h1v1h-1zM78 291h1v1h-1zM86 291h1v1h-1zM69 292h1v1h-1zM79 292h1v1h-1zM86 292h1v1h-1zM79 293h1v1h-1zM79 294h1v1h-1zM86 294h1v1h-1zM79 295h1v1h-1zM85 295h1v1h-1zM80 296h1v1h-1zM85 296h1v1h-1zM67 297h1v1h-1zM80 297h1v1h-1zM67 298h1v1h-1zM66 299h1v1h-1zM81 299h1v1h-1zM66 300h1v1h-1zM65 301h1v1h-1zM84 301h1v1h-1zM61 302h5v1h-5zM67 302h1v1h-1zM84 302h1v1h-1zM42 303h3v1h-3zM46 303h3v1h-3zM61 303h1v1h-1zM67 303h1v1h-1zM84 303h1v1h-1zM42 304h1v1h-1zM48 304h1v1h-1zM61 304h1v1h-1zM67 304h1v1h-1zM80 304h7v1h-7zM42 305h1v1h-1zM48 305h1v1h-1zM61 305h1v1h-1zM64 305h1v1h-1zM67 305h1v1h-1zM80 305h1v1h-1zM82 305h2v1h-2zM86 305h1v1h-1zM48 306h1v1h-1zM61 306h1v1h-1zM63 306h1v1h-1zM67 306h1v1h-1zM80 306h1v1h-1zM83 306h1v1h-1zM86 306h1v1h-1zM42 307h1v1h-1zM48 307h1v1h-1zM61 307h1v1h-1zM80 307h1v1h-1zM83 307h1v1h-1zM86 307h1v1h-1zM42 308h1v1h-1zM48 308h1v1h-1zM62 308h4v1h-4zM67 308h1v1h-1zM80 308h1v1h-1zM86 308h1v1h-1zM42 309h1v1h-1zM44 309h1v1h-1zM47 309h3v1h-3zM52 309h7v1h-7zM80 309h1v1h-1zM86 309h1v1h-1zM50 310h1v1h-1zM57 310h1v1h-1zM80 310h7v1h-7zM51 311h3v1h-3zM55 311h3v1h-3zM51 312h1v1h-1zM54 312h1v1h-1zM57 312h1v1h-1zM51 313h1v1h-1zM57 313h1v1h-1zM51 314h1v1h-1zM57 314h1v1h-1zM51 315h4v1h-4zM56 315h1v1h-1z"/>
<path fill="#ff0000" d="M451 59h1v1h-1zM449 60h1v1h-1zM453 60h1v1h-1zM448 61h1v1h-1zM454 61h1v1h-1zM448 62h1v1h-1zM450 62h5v1h-5zM448 63h2v1h-2zM454 63h4v1h-4zM442 64h2v1h-2zM449 64h1v1h-1zM453 64h1v1h-1zM462 64h2v1h-2zM392 65h3v1h-3zM439 65h1v1h-1zM450 65h3v1h-3zM464 65h4v1h-4zM391 66h1v1h-1zM395 66h1v1h-1zM435 66h4v1h-4zM468 66h4v1h-4zM482 66h1v1h-1zM390 67h1v1h-1zM421 67h3v1h-3zM476 67h2v1h-2zM483 67h1v1h-1zM363 68h3v1h-3zM392 68h1v1h-1zM394 68h7v1h-7zM424 68h1v1h-1zM477 68h3v1h-3zM483 68h1v1h-1zM362 69h1v1h-1zM366 69h1v1h-1zM379 69h1v1h-1zM381 69h5v1h-5zM387 69h1v1h-1zM396 69h1v1h-1zM408 69h4v1h-4zM419 69h1v1h-1zM424 69h4v1h-4zM477 69h1v1h-1zM483 69h1v1h-1zM361 70h1v1h-1zM367 70h1v1h-1zM369 70h5v1h-5zM378 70h1v1h-1zM395 70h1v1h-1zM415 70h1v1h-1zM419 70h5v1h-5zM425 70h1v1h-1zM478 70h1v1h-1zM482 70h1v1h-1zM361 71h1v1h-1zM364 71h5v1h-5zM419 71h1v1h-1zM425 71h1v1h-1zM479 71h1v1h-1zM481 71h1v1h-1zM361 72h1v1h-1zM367 72h1v1h-1zM420 72h1v1h-1zM424 72h1v1h-1zM356 73h4v1h-4zM362 73h1v1h-1zM366 73h1v1h-1zM421 73h3v1h-3zM353 74h3v1h-3zM363 74h3v1h-3zM350 75h3v1h-3zM334 77h3v1h-3zM344 77h2v1h-2zM333 78h1v1h-1zM337 78h1v1h-1zM340 78h4v1h-4zM332 79h1v1h-1zM337 79h3v1h-3zM332 80h1v1h-1zM336 80h1v1h-1zM338 80h1v1h-1zM332 81h1v1h-1zM338 81h1v1h-1zM331 82h1v1h-1zM333 82h1v1h-1zM337 82h1v1h-1zM330 83h1v1h-1zM334 83h3v1h-3zM328 84h2v1h-2zM327 85h1v1h-1zM325 86h2v1h-2zM323 87h2v1h-2zM322 88h1v1h-1zM317 91h1v1h-1zM315 92h2v1h-2zM314 93h1v1h-1zM312 94h2v1h-2zM305 95h3v1h-3zM311 95h1v1h-1zM304 96h1v1h-1zM308 96h3v1h-3zM303 97h1v1h-1zM308 97h2v1h-2zM303 98h1v1h-1zM309 98h1v1h-1zM303 99h1v1h-1zM309 99h1v1h-1zM304 100h1v1h-1zM308 100h1v1h-1zM303 101h1v1h-1zM305 101h3v1h-3zM302 102h1v1h-1zM302 103h1v1h-1zM301 104h1v1h-1zM300 105h1v1h-1zM299 106h1v1h-1zM298 107h1v1h-1zM297 108h1v1h-1zM296 109h1v1h-1zM295 110h1v1h-1zM291 115h1v1h-1zM290 116h1v1h-1zM289 117h1v1h-1zM288 118h1v1h-1zM288 119h1v1h-1zM287 120h1v1h-1zM286 121h1v1h-1zM285 122h1v1h-1zM284 123h1v1h-1zM283 124h1v1h-1zM276 128h3v1h-3zM275 129h1v1h-1zM279 129h1v1h-1zM274 130h1v1h-1zM278 130h1v1h-1zM280 130h1v1h-1zM274 131h1v1h-1zM277 131h1v1h-1zM280 131h1v1h-1zM274 132h1v1h-1zM276 132h1v1h-1zM280 132h1v1h-1zM275 133h2v1h-2zM279 133h1v1h-1zM275 134h4v1h-4zM275 135h1v1h-1zM274 136h1v1h-1zM273 137h1v1h-1zM273 138h1v1h-1zM270 143h1v1h-1zM269 144h1v1h-1zM269 145h1v1h-1zM268 146h1v1h-1zM267 147h1v1h-1zM267 148h1v1h-1zM266 149h1v1h-1zM266 150h1v1h-1zM265 151h1v1h-1zM264 152h1v1h-1zM261 157h1v1h-1zM261 158h1v1h-1zM260 159h1v1h-1zM259 160h1v1h-1zM259 161h1v1h-1zM258 162h1v1h-1zM258 163h1v1h-1zM257 164h1v1h-1zM256 165h1v1h-1zM256 166h1v1h-1zM253 171h1v1h-1zM252 172h1v1h-1zM252 173h1v1h-1zM251 174h1v1h-1zM250 175h1v1h-1zM247 176h4v1h-4zM246 177h1v1h-1zM249 177h2v1h-2zM245 178h1v1h-1zM249 178h1v1h-1zM251 178h1v1h-1zM245 179h1v1h-1zM248 179h1v1h-1zM251 179h1v1h-1zM245 180h1v1h-1zM247 180h1v1h-1zM251 180h1v1h-1zM246 181h1v1h-1zM250 181h1v1h-1zM247 182h3v1h-3zM242 185h1v1h-1zM241 186h1v1h-1zM241 187h1v1h-1zM240 188h1v1h-1zM239 189h1v1h-1zM238 190h1v1h-1zM237 191h1v1h-1zM236 192h1v1h-1zM235 193h1v1h-1zM234 194h1v1h-1zM229 199h1v1h-1zM228 200h1v1h-1zM227 201h1v1h-1zM226 202h1v1h-1zM226 203h1v1h-1zM225 204h1v1h-1zM224 205h1v1h-1zM223 206h1v1h-1zM218 207h3v1h-3zM222 207h1v1h-1zM217 208h1v1h-1zM221 208h1v1h-1zM216 209h1v1h-1zM222 209h1v1h-1zM216 210h1v1h-1zM222 210h1v1h-1zM216 211h1v1h-1zM222 211h1v1h-1zM217 212h1v1h-1zM221 212h1v1h-1zM218 213h3v1h-3zM217 214h1v1h-1zM217 215h1v1h-1zM216 216h1v1h-1zM216 217h1v1h-1zM215 218h1v1h-1zM215 219h1v1h-1zM214 220h1v1h-1zM214 221h1v1h-1zM213 222h1v1h-1zM211 227h1v1h-1zM210 228h1v1h-1zM102 229h3v1h-3zM210 229h1v1h-1zM101 230h1v1h-1zM105 230h1v1h-1zM209 230h1v1h-1zM100 231h1v1h-1zM106 231h1v1h-1zM131 231h3v1h-3zM209 231h1v1h-1zM100 232h1v1h-1zM103 232h7v1h-7zM130 232h1v1h-1zM134 232h1v1h-1zM209 232h1v1h-1zM100 233h1v1h-1zM102 233h1v1h-1zM106 233h1v1h-1zM114 233h3v1h-3zM118 233h6v1h-6zM129 233h1v1h-1zM135 233h1v1h-1zM208 233h1v1h-1zM101 234h1v1h-1zM105 234h1v1h-1zM128 234h5v1h-5zM135 234h1v1h-1zM208 234h1v1h-1zM100 235h1v1h-1zM102 235h3v1h-3zM129 235h1v1h-1zM132 235h1v1h-1zM135 235h1v1h-1zM207 235h1v1h-1zM130 236h1v1h-1zM133 236h2v1h-2zM207 236h1v1h-1zM131 237h3v1h-3zM133 238h1v1h-1zM134 239h1v1h-1zM95 240h1v1h-1zM94 241h1v1h-1zM204 241h1v1h-1zM93 242h1v1h-1zM204 242h1v1h-1zM92 243h1v1h-1zM203 243h1v1h-1zM91 244h1v1h-1zM135 244h1v1h-1zM203 244h1v1h-1zM90 245h1v1h-1zM136 245h1v1h-1zM202 245h1v1h-1zM88 246h2v1h-2zM136 246h1v1h-1zM202 246h1v1h-1zM87 247h1v1h-1zM137 247h1v1h-1zM201 247h1v1h-1zM86 248h1v1h-1zM137 248h1v1h-1zM201 248h1v1h-1zM137 249h1v1h-1zM200 249h1v1h-1zM138 250h1v1h-1zM200 250h1v1h-1zM138 251h1v1h-1zM138 252h1v1h-1zM81 253h1v1h-1zM139 253h1v1h-1zM80 254h1v1h-1zM79 255h1v1h-1zM198 255h1v1h-1zM78 256h1v1h-1zM197 256h1v1h-1zM73 257h3v1h-3zM77 257h1v1h-1zM197 257h1v1h-1zM72 258h1v1h-1zM76 258h1v1h-1zM140 258h1v1h-1zM196 258h1v1h-1zM71 259h1v1h-1zM75 259h1v1h-1zM77 259h1v1h-1zM196 259h1v1h-1zM71 260h1v1h-1zM74 260h1v1h-1zM77 260h1v1h-1zM195 260h1v1h-1zM71 261h1v1h-1zM74 261h1v1h-1zM77 261h1v1h-1zM195 261h1v1h-1zM72 262h2v1h-2zM76 262h1v1h-1zM142 262h1v1h-1zM194 262h1v1h-1zM73 263h3v1h-3zM142 263h1v1h-1zM194 263h1v1h-1zM142 264h1v1h-1zM193 264h1v1h-1zM143 265h1v1h-1zM143 266h1v1h-1zM71 267h1v1h-1zM144 267h1v1h-1zM70 268h1v1h-1zM189 268h3v1h-3zM70 269h1v1h-1zM188 269h1v1h-1zM191 269h2v1h-2zM69 270h1v1h-1zM187 270h1v1h-1zM190 270h1v1h-1zM193 270h1v1h-1zM69 271h1v1h-1zM187 271h1v1h-1zM190 271h1v1h-1zM193 271h1v1h-1zM68 272h1v1h-1zM145 272h1v1h-1zM187 272h1v1h-1zM189 272h1v1h-1zM193 272h1v1h-1zM68 273h1v1h-1zM146 273h1v1h-1zM188 273h2v1h-2zM192 273h1v1h-1zM67 274h1v1h-1zM146 274h1v1h-1zM188 274h4v1h-4zM67 275h1v1h-1zM146 275h1v1h-1zM187 275h1v1h-1zM67 276h1v1h-1zM147 276h1v1h-1zM187 276h1v1h-1zM147 277h1v1h-1zM186 277h1v1h-1zM147 278h1v1h-1zM186 278h1v1h-1zM148 279h1v1h-1zM148 280h1v1h-1zM64 281h1v1h-1zM148 281h1v1h-1zM64 282h1v1h-1zM63 283h1v1h-1zM182 283h1v1h-1zM63 284h1v1h-1zM182 284h1v1h-1zM62 285h1v1h-1zM181 285h1v1h-1zM62 286h1v1h-1zM150 286h1v1h-1zM181 286h1v1h-1zM61 287h1v1h-1zM151 287h1v1h-1zM180 287h1v1h-1zM61 288h1v1h-1zM151 288h1v1h-1zM179 288h1v1h-1zM60 289h1v1h-1zM151 289h1v1h-1zM179 289h1v1h-1zM60 290h1v1h-1zM152 290h1v1h-1zM178 290h1v1h-1zM152 291h1v1h-1zM177 291h1v1h-1zM419 291h3v1h-3zM152 292h1v1h-1zM177 292h1v1h-1zM418 292h1v1h-1zM422 292h1v1h-1zM153 293h1v1h-1zM417 293h1v1h-1zM423 293h1v1h-1zM153 294h1v1h-1zM404 294h10v1h-10zM417 294h11v1h-11zM432 294h9v1h-9zM58 295h1v1h-1zM153 295h1v1h-1zM417 295h1v1h-1zM423 295h1v1h-1zM57 296h1v1h-1zM418 296h1v1h-1zM422 296h1v1h-1zM57 297h1v1h-1zM174 297h1v1h-1zM419 297h3v1h-3zM56 298h1v1h-1zM173 298h1v1h-1zM56 299h1v1h-1zM172 299h1v1h-1zM55 300h1v1h-1zM155 300h1v1h-1zM172 300h1v1h-1zM55 301h1v1h-1zM155 301h1v1h-1zM171 301h1v1h-1zM54 302h1v1h-1zM156 302h1v1h-1zM170 302h1v1h-1zM54 303h1v1h-1zM156 303h1v1h-1zM170 303h1v1h-1zM53 304h1v1h-1zM156 304h1v1h-1zM169 304h1v1h-1zM157 305h1v1h-1zM169 305h1v1h-1zM157 306h1v1h-1zM168 306h1v1h-1zM158 307h1v1h-1zM158 308h1v1h-1zM51 309h1v1h-1zM158 309h1v1h-1zM51 310h1v1h-1zM50 311h1v1h-1zM165 311h1v1h-1zM50 312h1v1h-1zM164 312h1v1h-1zM49 313h1v1h-1zM164 313h1v1h-1zM49 314h1v1h-1zM160 314h4v1h-4zM48 315h1v1h-1zM159 315h1v1h-1zM162 315h2v1h-2zM48 316h1v1h-1zM158 316h1v1h-1zM162 316h1v1h-1zM164 316h1v1h-1zM47 317h1v1h-1zM158 317h1v1h-1zM164 317h1v1h-1zM47 318h1v1h-1zM158 318h1v1h-1zM164 318h1v1h-1zM159 319h1v1h-1zM163 319h1v1h-1zM44 320h1v1h-1zM46 320h1v1h-1zM160 320h3v1h-3zM43 321h1v1h-1zM47 321h1v1h-1zM42 322h1v1h-1zM48 322h1v1h-1zM42 323h1v1h-1zM43 325h1v1h-1zM47 325h1v1h-1z"/>
<path fill="#00ff00" d="M383 59h1v1h-1zM383 60h1v1h-1zM383 61h1v1h-1zM380 62h12v1h-12zM431 62h1v1h-1zM373 63h7v1h-7zM383 63h1v1h-1zM392 63h2v1h-2zM398 63h10v1h-10zM431 63h1v1h-1zM370 64h3v1h-3zM383 64h1v1h-1zM412 64h10v1h-10zM431 64h1v1h-1zM359 65h7v1h-7zM383 65h1v1h-1zM426 65h10v1h-10zM440 65h10v1h-10zM454 65h5v1h-5zM473 65h5v1h-5zM482 65h2v1h-2zM335 66h1v1h-1zM356 66h3v1h-3zM431 66h1v1h-1zM335 67h1v1h-1zM346 67h6v1h-6zM335 68h1v1h-1zM342 68h4v1h-4zM431 68h1v1h-1zM332 69h7v1h-7zM330 70h4v1h-4zM335 70h1v1h-1zM328 71h2v1h-2zM335 71h1v1h-1zM323 72h1v1h-1zM335 72h1v1h-1zM320 73h3v1h-3zM316 74h4v1h-4zM314 75h2v1h-2zM309 76h1v1h-1zM306 77h3v1h-3zM302 78h4v1h-4zM300 79h2v1h-2zM286 80h1v1h-1zM295 80h1v1h-1zM286 81h1v1h-1zM292 81h3v1h-3zM286 82h1v1h-1zM288 82h4v1h-4zM283 83h7v1h-7zM286 84h1v1h-1zM286 85h1v1h-1zM286 86h1v1h-1zM284 88h1v1h-1zM283 89h1v1h-1zM283 90h1v1h-1zM282 91h1v1h-1zM282 92h1v1h-1zM281 93h1v1h-1zM281 94h1v1h-1zM280 95h1v1h-1zM280 96h1v1h-1zM279 97h1v1h-1zM277 102h1v1h-1zM276 103h1v1h-1zM276 104h1v1h-1zM275 105h1v1h-1zM275 106h1v1h-1zM274 107h1v1h-1zM274 108h1v1h-1zM274 109h1v1h-1zM273 110h1v1h-1zM273 111h1v1h-1zM270 116h1v1h-1zM270 117h1v1h-1zM269 118h1v1h-1zM269 119h1v1h-1zM268 120h1v1h-1zM268 121h1v1h-1zM267 122h1v1h-1zM267 123h1v1h-1zM266 124h1v1h-1zM266 125h1v1h-1zM263 130h1v1h-1zM263 131h1v1h-1zM262 132h1v1h-1zM262 133h1v1h-1zM262 134h1v1h-1zM261 135h1v1h-1zM261 136h1v1h-1zM260 137h1v1h-1zM260 138h1v1h-1zM259 139h1v1h-1zM257 144h1v1h-1zM256 145h1v1h-1zM256 146h1v1h-1zM255 147h1v1h-1zM255 148h1v1h-1zM254 149h1v1h-1zM254 150h1v1h-1zM253 151h1v1h-1zM253 152h1v1h-1zM252 153h1v1h-1zM250 158h1v1h-1zM250 159h1v1h-1zM249 160h1v1h-1zM249 161h1v1h-1zM248 162h1v1h-1zM248 163h1v1h-1zM247 164h1v1h-1zM247 165h1v1h-1zM246 166h1v1h-1zM246 167h1v1h-1zM243 172h1v1h-1zM243 173h1v1h-1zM242 174h1v1h-1zM190 175h1v1h-1zM242 175h1v1h-1zM190 176h1v1h-1zM241 176h1v1h-1zM190 177h1v1h-1zM241 177h1v1h-1zM187 178h7v1h-7zM240 178h1v1h-1zM189 179h2v1h-2zM198 179h7v1h-7zM240 179h1v1h-1zM189 180h2v1h-2zM205 180h3v1h-3zM212 180h3v1h-3zM238 180h2v1h-2zM188 181h1v1h-1zM190 181h1v1h-1zM215 181h7v1h-7zM238 181h2v1h-2zM188 182h1v1h-1zM226 182h8v1h-8zM238 182h1v1h-1zM187 183h1v1h-1zM234 183h8v1h-8zM186 184h1v1h-1zM238 184h1v1h-1zM238 185h1v1h-1zM238 186h1v1h-1zM183 189h1v1h-1zM183 190h1v1h-1zM182 191h1v1h-1zM182 192h1v1h-1zM181 193h1v1h-1zM180 194h1v1h-1zM180 195h1v1h-1zM179 196h1v1h-1zM179 197h1v1h-1zM178 198h1v1h-1zM175 203h1v1h-1zM174 204h1v1h-1zM174 205h1v1h-1zM173 206h1v1h-1zM173 207h1v1h-1zM172 208h1v1h-1zM171 209h1v1h-1zM171 210h1v1h-1zM170 211h1v1h-1zM170 212h1v1h-1zM167 217h1v1h-1zM166 218h1v1h-1zM166 219h1v1h-1zM165 220h1v1h-1zM164 221h1v1h-1zM164 222h1v1h-1zM163 223h1v1h-1zM163 224h1v1h-1zM161 226h1v1h-1zM158 231h1v1h-1zM158 232h1v1h-1zM157 233h1v1h-1zM157 234h1v1h-1zM156 235h1v1h-1zM155 236h1v1h-1zM155 237h1v1h-1zM154 238h1v1h-1zM154 239h1v1h-1zM153 240h1v1h-1zM150 245h1v1h-1zM149 246h1v1h-1zM149 247h1v1h-1zM148 248h1v1h-1zM148 249h1v1h-1zM147 250h1v1h-1zM146 251h1v1h-1zM146 252h1v1h-1zM145 253h1v1h-1zM145 254h1v1h-1zM141 257h1v1h-1zM141 258h1v1h-1zM141 259h2v1h-2zM138 260h7v1h-7zM139 261h3v1h-3zM137 262h2v1h-2zM141 262h1v1h-1zM135 263h2v1h-2zM141 263h1v1h-1zM134 264h1v1h-1zM133 265h1v1h-1zM128 268h1v1h-1zM125 269h2v1h-2zM123 270h2v1h-2zM122 271h1v1h-1zM120 272h2v1h-2zM119 273h1v1h-1zM113 276h2v1h-2zM111 277h2v1h-2zM110 278h1v1h-1zM108 279h2v1h-2zM106 280h2v1h-2zM105 281h1v1h-1zM99 284h2v1h-2zM93 285h1v1h-1zM98 285h1v1h-1zM93 286h1v1h-1zM96 286h2v1h-2zM93 287h3v1h-3zM90 288h7v1h-7zM91 289h3v1h-3zM93 290h1v1h-1zM93 291h1v1h-1zM86 293h1v1h-1zM85 294h1v1h-1zM83 295h2v1h-2zM82 296h1v1h-1zM81 297h1v1h-1zM79 298h2v1h-2zM78 299h1v1h-1zM77 300h1v1h-1zM71 304h2v1h-2zM70 305h1v1h-1zM69 306h1v1h-1zM67 307h2v1h-2zM66 308h1v1h-1zM65 309h1v1h-1zM63 310h2v1h-2zM420 310h1v1h-1zM420 311h1v1h-1zM420 312h1v1h-1zM404 313h10v1h-10zM417 313h11v1h-11zM432 313h9v1h-9zM58 314h1v1h-1zM420 314h1v1h-1zM57 315h1v1h-1zM420 315h1v1h-1zM55 316h2v1h-2zM420 316h1v1h-1zM54 317h1v1h-1zM53 318h1v1h-1zM51 319h1v1h-1zM50 320h1v1h-1zM49 321h1v1h-1zM42 324h3v1h-3zM46 324h3v1h-3z"/>
<path fill="#0000ff" d="M451 54h1v1h-1zM450 55h1v1h-1zM452 55h1v1h-1zM449 56h1v1h-1zM453 56h1v1h-1zM448 57h5v1h-5zM454 57h1v1h-1zM443 58h7v1h-7zM453 58h1v1h-1zM457 58h5v1h-5zM437 59h2v1h-2zM450 59h1v1h-1zM452 59h1v1h-1zM462 59h5v1h-5zM432 60h5v1h-5zM451 60h1v1h-1zM471 60h6v1h-6zM429 61h3v1h-3zM477 61h3v1h-3zM420 62h5v1h-5zM415 63h5v1h-5zM409 64h2v1h-2zM403 65h6v1h-6zM383 66h1v1h-1zM401 66h2v1h-2zM382 67h1v1h-1zM384 67h1v1h-1zM392 67h1v1h-1zM394 67h3v1h-3zM381 68h1v1h-1zM385 68h1v1h-1zM387 68h5v1h-5zM380 69h1v1h-1zM386 69h1v1h-1zM381 70h2v1h-2zM385 70h1v1h-1zM380 71h1v1h-1zM382 71h1v1h-1zM384 71h1v1h-1zM378 72h2v1h-2zM383 72h1v1h-1zM377 73h1v1h-1zM375 74h2v1h-2zM374 75h1v1h-1zM373 76h1v1h-1zM368 79h1v1h-1zM366 80h2v1h-2zM365 81h1v1h-1zM364 82h1v1h-1zM362 83h2v1h-2zM361 84h1v1h-1zM359 85h2v1h-2zM353 89h2v1h-2zM352 90h1v1h-1zM350 91h1v1h-1zM345 95h1v1h-1zM340 98h1v1h-1zM338 99h2v1h-2zM337 100h1v1h-1zM335 101h2v1h-2zM334 102h1v1h-1zM332 103h2v1h-2zM331 104h1v1h-1zM325 108h2v1h-2zM324 109h1v1h-1zM322 110h2v1h-2zM321 111h1v1h-1zM315 112h1v1h-1zM319 112h2v1h-2zM314 113h1v1h-1zM316 113h1v1h-1zM318 113h1v1h-1zM313 114h1v1h-1zM317 114h1v1h-1zM312 115h1v1h-1zM318 115h1v1h-1zM313 116h1v1h-1zM317 116h1v1h-1zM314 117h1v1h-1zM316 117h1v1h-1zM313 118h1v1h-1zM315 118h1v1h-1zM313 119h1v1h-1zM312 120h1v1h-1zM312 121h1v1h-1zM311 122h1v1h-1zM310 123h1v1h-1zM310 124h1v1h-1zM309 125h1v1h-1zM309 126h1v1h-1zM308 127h1v1h-1zM305 132h1v1h-1zM305 133h1v1h-1zM304 134h1v1h-1zM303 135h1v1h-1zM303 136h1v1h-1zM302 137h1v1h-1zM302 138h1v1h-1zM301 139h1v1h-1zM301 140h1v1h-1zM300 141h1v1h-1zM297 146h1v1h-1zM297 147h1v1h-1zM296 148h1v1h-1zM295 149h1v1h-1zM295 150h1v1h-1zM294 151h1v1h-1zM294 152h1v1h-1zM293 153h1v1h-1zM292 154h1v1h-1zM292 155h1v1h-1zM289 160h1v1h-1zM288 161h1v1h-1zM288 162h1v1h-1zM287 163h1v1h-1zM287 164h1v1h-1zM286 165h1v1h-1zM286 166h1v1h-1zM285 167h1v1h-1zM284 168h1v1h-1zM284 169h1v1h-1zM281 174h1v1h-1zM280 175h1v1h-1zM280 176h1v1h-1zM279 177h1v1h-1zM279 178h1v1h-1zM278 179h1v1h-1zM277 180h1v1h-1zM277 181h1v1h-1zM276 182h1v1h-1zM276 183h1v1h-1zM273 188h1v1h-1zM272 189h1v1h-1zM272 190h1v1h-1zM271 191h1v1h-1zM271 192h1v1h-1zM270 193h1v1h-1zM269 194h1v1h-1zM269 195h1v1h-1zM268 196h1v1h-1zM268 197h1v1h-1zM265 202h1v1h-1zM264 203h1v1h-1zM264 204h1v1h-1zM263 205h1v1h-1zM262 206h1v1h-1zM262 207h1v1h-1zM261 208h1v1h-1zM261 209h1v1h-1zM260 210h1v1h-1zM260 211h1v1h-1zM257 216h1v1h-1zM256 217h1v1h-1zM256 218h1v1h-1zM255 219h1v1h-1zM254 220h1v1h-1zM254 221h1v1h-1zM253 222h1v1h-1zM253 223h1v1h-1zM252 224h1v1h-1zM251 225h1v1h-1zM248 228h1v1h-1zM247 229h1v1h-1zM249 229h1v1h-1zM246 230h1v1h-1zM249 230h2v1h-2zM245 231h1v1h-1zM248 231h1v1h-1zM251 231h1v1h-1zM246 232h2v1h-2zM250 232h1v1h-1zM247 233h1v1h-1zM249 233h1v1h-1zM246 234h1v1h-1zM248 234h1v1h-1zM246 235h1v1h-1zM245 236h1v1h-1zM244 237h1v1h-1zM244 238h1v1h-1zM243 239h1v1h-1zM112 243h1v1h-1zM111 244h1v1h-1zM113 244h1v1h-1zM240 244h1v1h-1zM110 245h1v1h-1zM114 245h1v1h-1zM240 245h1v1h-1zM109 246h1v1h-1zM112 246h1v1h-1zM115 246h1v1h-1zM239 246h1v1h-1zM110 247h2v1h-2zM113 247h2v1h-2zM238 247h1v1h-1zM110 248h2v1h-2zM113 248h1v1h-1zM238 248h1v1h-1zM110 249h1v1h-1zM112 249h1v1h-1zM237 249h1v1h-1zM109 250h1v1h-1zM237 250h1v1h-1zM108 251h1v1h-1zM236 251h1v1h-1zM107 252h1v1h-1zM235 252h1v1h-1zM106 253h1v1h-1zM117 253h1v1h-1zM235 253h1v1h-1zM118 254h1v1h-1zM118 255h1v1h-1zM119 256h1v1h-1zM120 257h1v1h-1zM102 258h1v1h-1zM120 258h1v1h-1zM232 258h1v1h-1zM101 259h1v1h-1zM121 259h1v1h-1zM231 259h1v1h-1zM100 260h1v1h-1zM122 260h1v1h-1zM231 260h1v1h-1zM100 261h1v1h-1zM122 261h1v1h-1zM230 261h1v1h-1zM99 262h1v1h-1zM123 262h1v1h-1zM229 262h1v1h-1zM98 263h1v1h-1zM229 263h1v1h-1zM97 264h1v1h-1zM228 264h1v1h-1zM96 265h1v1h-1zM228 265h1v1h-1zM95 266h1v1h-1zM227 266h1v1h-1zM95 267h1v1h-1zM127 267h1v1h-1zM226 267h1v1h-1zM127 268h1v1h-1zM128 269h1v1h-1zM129 270h1v1h-1zM129 271h1v1h-1zM90 272h1v1h-1zM130 272h1v1h-1zM223 272h1v1h-1zM90 273h1v1h-1zM131 273h1v1h-1zM223 273h1v1h-1zM89 274h1v1h-1zM131 274h1v1h-1zM222 274h1v1h-1zM88 275h1v1h-1zM132 275h1v1h-1zM222 275h1v1h-1zM87 276h1v1h-1zM133 276h1v1h-1zM221 276h1v1h-1zM86 277h1v1h-1zM220 277h1v1h-1zM86 278h1v1h-1zM220 278h1v1h-1zM85 279h1v1h-1zM219 279h1v1h-1zM84 280h1v1h-1zM219 280h1v1h-1zM83 281h1v1h-1zM136 281h1v1h-1zM218 281h1v1h-1zM137 282h1v1h-1zM138 283h1v1h-1zM138 284h1v1h-1zM139 285h1v1h-1zM79 286h1v1h-1zM140 286h1v1h-1zM215 286h1v1h-1zM78 287h1v1h-1zM140 287h1v1h-1zM214 287h1v1h-1zM77 288h1v1h-1zM141 288h1v1h-1zM214 288h1v1h-1zM76 289h1v1h-1zM142 289h1v1h-1zM213 289h1v1h-1zM76 290h1v1h-1zM143 290h1v1h-1zM212 290h1v1h-1zM75 291h1v1h-1zM212 291h1v1h-1zM74 292h1v1h-1zM211 292h1v1h-1zM73 293h1v1h-1zM211 293h1v1h-1zM72 294h1v1h-1zM210 294h1v1h-1zM71 295h1v1h-1zM146 295h1v1h-1zM209 295h1v1h-1zM147 296h1v1h-1zM147 297h1v1h-1zM148 298h1v1h-1zM149 299h1v1h-1zM67 300h1v1h-1zM149 300h1v1h-1zM206 300h1v1h-1zM67 301h1v1h-1zM150 301h1v1h-1zM206 301h1v1h-1zM66 302h1v1h-1zM151 302h1v1h-1zM205 302h1v1h-1zM65 303h1v1h-1zM152 303h1v1h-1zM205 303h1v1h-1zM64 304h1v1h-1zM152 304h1v1h-1zM204 304h1v1h-1zM63 305h1v1h-1zM203 305h1v1h-1zM62 306h1v1h-1zM203 306h1v1h-1zM62 307h1v1h-1zM202 307h1v1h-1zM61 308h1v1h-1zM202 308h1v1h-1zM60 309h1v1h-1zM156 309h1v1h-1zM201 309h1v1h-1zM156 310h1v1h-1zM157 311h1v1h-1zM158 312h1v1h-1zM158 313h1v1h-1zM56 314h1v1h-1zM159 314h1v1h-1zM198 314h1v1h-1zM55 315h1v1h-1zM160 315h1v1h-1zM197 315h1v1h-1zM54 316h1v1h-1zM161 316h1v1h-1zM197 316h1v1h-1zM53 317h1v1h-1zM161 317h1v1h-1zM196 317h1v1h-1zM52 318h1v1h-1zM162 318h1v1h-1zM196 318h1v1h-1zM52 319h1v1h-1zM195 319h1v1h-1zM51 320h1v1h-1zM194 320h1v1h-1zM50 321h1v1h-1zM194 321h1v1h-1zM49 322h1v1h-1zM193 322h1v1h-1zM48 323h1v1h-1zM165 323h1v1h-1zM193 323h1v1h-1zM166 324h1v1h-1zM167 325h1v1h-1zM44 326h1v1h-1zM46 326h1v1h-1zM168 326h1v1h-1zM43 327h1v1h-1zM47 327h1v1h-1zM168 327h1v1h-1zM42 328h1v1h-1zM48 328h1v1h-1zM169 328h1v1h-1zM190 328h1v1h-1zM420 328h1v1h-1zM43 329h1v1h-1zM47 329h1v1h-1zM170 329h1v1h-1zM189 329h1v1h-1zM419 329h1v1h-1zM421 329h1v1h-1zM44 330h1v1h-1zM46 330h1v1h-1zM170 330h1v1h-1zM188 330h1v1h-1zM418 330h1v1h-1zM422 330h1v1h-1zM171 331h1v1h-1zM188 331h1v1h-1zM404 331h10v1h-10zM417 331h11v1h-11zM432 331h9v1h-9zM172 332h1v1h-1zM187 332h1v1h-1zM418 332h1v1h-1zM422 332h1v1h-1zM187 333h1v1h-1zM419 333h1v1h-1zM421 333h1v1h-1zM186 334h1v1h-1zM420 334h1v1h-1zM185 335h1v1h-1zM185 336h1v1h-1zM175 337h1v1h-1zM184 337h1v1h-1zM176 338h1v1h-1zM177 339h1v1h-1zM177 340h1v1h-1zM178 341h1v1h-1zM180 341h1v1h-1zM179 342h1v1h-1zM181 342h1v1h-1zM178 343h2v1h-2zM181 343h2v1h-2zM177 344h1v1h-1zM180 344h1v1h-1zM183 344h1v1h-1zM178 345h1v1h-1zM182 345h1v1h-1zM179 346h1v1h-1zM181 346h1v1h-1zM180 347h1v1h-1z"/>
<path fill="#ffff00" d="M477 63h3v1h-3zM481 63h2v1h-2zM473 64h6v1h-6zM481 64h1v1h-1zM459 65h5v1h-5zM468 65h5v1h-5zM478 65h2v1h-2zM481 65h1v1h-1zM444 66h6v1h-6zM454 66h5v1h-5zM478 66h1v1h-1zM481 66h1v1h-1zM393 67h1v1h-1zM430 67h6v1h-6zM440 67h4v1h-4zM393 68h1v1h-1zM415 68h7v1h-7zM426 68h4v1h-4zM390 69h6v1h-6zM401 69h7v1h-7zM412 69h3v1h-3zM391 70h1v1h-1zM393 70h2v1h-2zM398 70h3v1h-3zM391 71h4v1h-4zM389 72h3v1h-3zM394 72h1v1h-1zM387 73h2v1h-2zM385 74h2v1h-2zM384 75h1v1h-1zM379 77h1v1h-1zM377 78h2v1h-2zM375 79h2v1h-2zM373 80h2v1h-2zM371 81h2v1h-2zM370 82h1v1h-1zM365 84h1v1h-1zM363 85h2v1h-2zM361 86h2v1h-2zM359 87h2v1h-2zM357 88h2v1h-2zM356 89h1v1h-1zM351 91h1v1h-1zM349 92h2v1h-2zM347 93h2v1h-2zM345 94h2v1h-2zM343 95h2v1h-2zM342 96h1v1h-1zM337 98h1v1h-1zM335 99h2v1h-2zM333 100h2v1h-2zM331 101h2v1h-2zM329 102h2v1h-2zM328 103h1v1h-1zM323 105h1v1h-1zM321 106h2v1h-2zM319 107h2v1h-2zM317 108h2v1h-2zM315 109h2v1h-2zM314 110h1v1h-1zM306 111h1v1h-1zM306 112h1v1h-1zM309 112h1v1h-1zM303 113h6v1h-6zM304 114h1v1h-1zM306 114h2v1h-2zM304 115h4v1h-4zM304 116h2v1h-2zM307 116h1v1h-1zM304 117h1v1h-1zM303 118h1v1h-1zM303 119h1v1h-1zM302 120h1v1h-1zM298 125h1v1h-1zM298 126h1v1h-1zM297 127h1v1h-1zM296 128h1v1h-1zM296 129h1v1h-1zM295 130h1v1h-1zM294 131h1v1h-1zM294 132h1v1h-1zM293 133h1v1h-1zM292 134h1v1h-1zM289 139h1v1h-1zM288 140h1v1h-1zM288 141h1v1h-1zM287 142h1v1h-1zM286 143h1v1h-1zM285 144h1v1h-1zM285 145h1v1h-1zM284 146h1v1h-1zM283 147h1v1h-1zM283 148h1v1h-1zM279 153h1v1h-1zM279 154h1v1h-1zM278 155h1v1h-1zM277 156h1v1h-1zM277 157h1v1h-1zM276 158h1v1h-1zM275 159h1v1h-1zM274 160h1v1h-1zM274 161h1v1h-1zM273 162h1v1h-1zM270 167h1v1h-1zM269 168h1v1h-1zM268 169h1v1h-1zM268 170h1v1h-1zM267 171h1v1h-1zM266 172h1v1h-1zM266 173h1v1h-1zM265 174h1v1h-1zM264 175h1v1h-1zM264 176h1v1h-1zM260 181h1v1h-1zM259 182h1v1h-1zM259 183h1v1h-1zM258 184h1v1h-1zM257 185h1v1h-1zM257 186h1v1h-1zM256 187h1v1h-1zM255 188h1v1h-1zM255 189h1v1h-1zM254 190h1v1h-1zM251 195h1v1h-1zM250 196h1v1h-1zM249 197h1v1h-1zM248 198h1v1h-1zM248 199h1v1h-1zM247 200h1v1h-1zM246 201h1v1h-1zM246 202h1v1h-1zM245 203h1v1h-1zM244 204h1v1h-1zM241 209h1v1h-1zM240 210h1v1h-1zM240 211h1v1h-1zM239 212h1v1h-1zM238 213h1v1h-1zM132 214h1v1h-1zM237 214h1v1h-1zM132 215h1v1h-1zM237 215h1v1h-1zM129 216h6v1h-6zM236 216h1v1h-1zM130 217h1v1h-1zM132 217h2v1h-2zM235 217h1v1h-1zM130 218h8v1h-8zM235 218h1v1h-1zM130 219h1v1h-1zM133 219h1v1h-1zM138 219h2v1h-2zM144 220h1v1h-1zM145 221h4v1h-4zM149 222h3v1h-3zM152 223h2v1h-2zM231 223h1v1h-1zM125 224h1v1h-1zM158 224h2v1h-2zM231 224h1v1h-1zM124 225h1v1h-1zM160 225h3v1h-3zM230 225h1v1h-1zM123 226h1v1h-1zM163 226h4v1h-4zM229 226h1v1h-1zM122 227h1v1h-1zM167 227h1v1h-1zM229 227h1v1h-1zM121 228h1v1h-1zM172 228h2v1h-2zM228 228h1v1h-1zM120 229h1v1h-1zM174 229h4v1h-4zM227 229h1v1h-1zM119 230h1v1h-1zM178 230h3v1h-3zM227 230h1v1h-1zM118 231h1v1h-1zM181 231h1v1h-1zM226 231h1v1h-1zM118 232h1v1h-1zM186 232h3v1h-3zM225 232h1v1h-1zM117 233h1v1h-1zM189 233h3v1h-3zM192 234h4v1h-4zM200 236h3v1h-3zM203 237h4v1h-4zM222 237h1v1h-1zM112 238h1v1h-1zM207 238h3v1h-3zM219 238h1v1h-1zM221 238h1v1h-1zM111 239h1v1h-1zM219 239h2v1h-2zM110 240h1v1h-1zM214 240h8v1h-8zM109 241h1v1h-1zM217 241h4v1h-4zM108 242h1v1h-1zM217 242h4v1h-4zM107 243h1v1h-1zM217 243h1v1h-1zM220 243h1v1h-1zM106 244h1v1h-1zM105 245h1v1h-1zM104 246h1v1h-1zM103 247h1v1h-1zM98 252h1v1h-1zM97 253h1v1h-1zM96 254h1v1h-1zM95 255h1v1h-1zM94 256h1v1h-1zM93 257h1v1h-1zM92 258h1v1h-1zM91 259h1v1h-1zM90 260h1v1h-1zM89 261h1v1h-1zM85 266h1v1h-1zM84 267h1v1h-1zM83 268h1v1h-1zM82 269h1v1h-1zM81 270h1v1h-1zM80 271h1v1h-1zM79 272h1v1h-1zM78 273h1v1h-1zM77 274h1v1h-1zM76 275h1v1h-1zM71 280h1v1h-1zM70 281h1v1h-1zM69 282h1v1h-1zM68 283h1v1h-1zM67 284h1v1h-1zM66 285h1v1h-1zM65 286h1v1h-1zM64 287h1v1h-1zM63 288h1v1h-1zM62 289h1v1h-1zM58 294h1v1h-1zM57 295h1v1h-1zM56 296h1v1h-1zM55 297h1v1h-1zM54 298h1v1h-1zM53 299h1v1h-1zM52 300h1v1h-1zM51 301h1v1h-1zM50 302h1v1h-1zM49 303h1v1h-1zM42 306h3v1h-3zM46 306h2v1h-2zM43 307h1v1h-1zM46 307h1v1h-1zM43 308h2v1h-2zM46 308h1v1h-1zM43 309h1v1h-1zM46 309h1v1h-1zM420 347h1v1h-1zM420 348h1v1h-1zM417 349h6v1h-6zM404 350h10v1h-10zM418 350h10v1h-10zM432 350h9v1h-9zM418 351h4v1h-4zM418 352h1v1h-1zM421 352h1v1h-1z"/>
<g font-family="'Liberation Sans', Arial, sans-serif" font-weight="bold" fill="#000" style="font-kerning:none">
<text transform="matrix(0.87279 0 0 1 253.8596 16)" font-size="14.3266">T3</text>
<text transform="matrix(0.87206 0 0 1 26.6157 373)" font-size="14.3266">50</text>
<text transform="matrix(0.86798 0 0 1 26.6175 350)" font-size="14.3266">53</text>
<text transform="matrix(0.86798 0 0 1 26.6175 327)" font-size="14.3266">56</text>
<text transform="matrix(0.86880 0 0 1 26.6171 304)" font-size="14.3266">59</text>
<text transform="matrix(0.87617 0 0 1 26.5403 281)" font-size="14.3266">62</text>
<text transform="matrix(0.86596 0 0 1 26.5457 259)" font-size="14.3266">65</text>
<text transform="matrix(0.86839 0 0 1 26.5444 236)" font-size="14.3266">68</text>
<text transform="matrix(0.87124 0 0 1 26.4637 213)" font-size="14.3266">71</text>
<text transform="matrix(0.85285 0 0 1 26.4750 190)" font-size="14.3266">74</text>
<text transform="matrix(0.88493 0 0 1 26.4552 167)" font-size="14.3266">77</text>
<text transform="matrix(0.87288 0 0 1 26.6031 145)" font-size="14.3266">80</text>
<text transform="matrix(0.86880 0 0 1 26.6050 122)" font-size="14.3266">83</text>
<text transform="matrix(0.86880 0 0 1 26.6050 99)" font-size="14.3266">86</text>
<text transform="matrix(0.86961 0 0 1 26.6046 76)" font-size="14.3266">89</text>
<text transform="matrix(0.87452 0 0 1 26.5656 53)" font-size="14.3266">92</text>
<text transform="matrix(0.86435 0 0 1 26.5707 31)" font-size="14.3266">95</text>
<text transform="matrix(0.84837 0 0 1 41.6142 384)" font-size="14.3266">8</text>
<text transform="matrix(0.82670 0 0 1 86.2540 384)" font-size="14.3266">13</text>
<text transform="matrix(0.82234 0 0 1 134.2579 384)" font-size="14.3266">18</text>
<text transform="matrix(0.87124 0 0 1 182.5673 384)" font-size="14.3266">23</text>
<text transform="matrix(0.86677 0 0 1 230.5695 384)" font-size="14.3266">28</text>
<text transform="matrix(0.86155 0 0 1 278.7167 384)" font-size="14.3266">33</text>
<text transform="matrix(0.85717 0 0 1 327.7182 384)" font-size="14.3266">38</text>
<text transform="matrix(0.85520 0 0 1 375.8145 384)" font-size="14.3266">43</text>
<text transform="matrix(0.85090 0 0 1 423.8155 384)" font-size="14.3266">48</text>
<text transform="matrix(0.86798 0 0 1 472.6175 384)" font-size="14.3266">53</text>
<text transform="matrix(0.91267 0 0 1 173.1126 401)" font-size="14.5349">Number of training samples</text>
<text transform="matrix(0 -0.88223 1 0 17 262.5259)" font-size="14.5349">Overall accuracy (%)</text>
<text transform="matrix(0.82990 0 0 1 445.5123 281)" font-size="14.3266">q=1</text>
<text transform="matrix(0.87572 0 0 1 445.4854 300)" font-size="14.3266">q=3</text>
<text transform="matrix(0.87140 0 0 1 445.4880 319)" font-size="14.3266">q=5</text>
<text transform="matrix(0.87982 0 0 1 445.4830 337)" font-size="14.3266">q=7</text>
<text transform="matrix(0.87623 0 0 1 445.4851 356)" font-size="14.3266">q=9</text>
</g>
</svg>
</body></html>
